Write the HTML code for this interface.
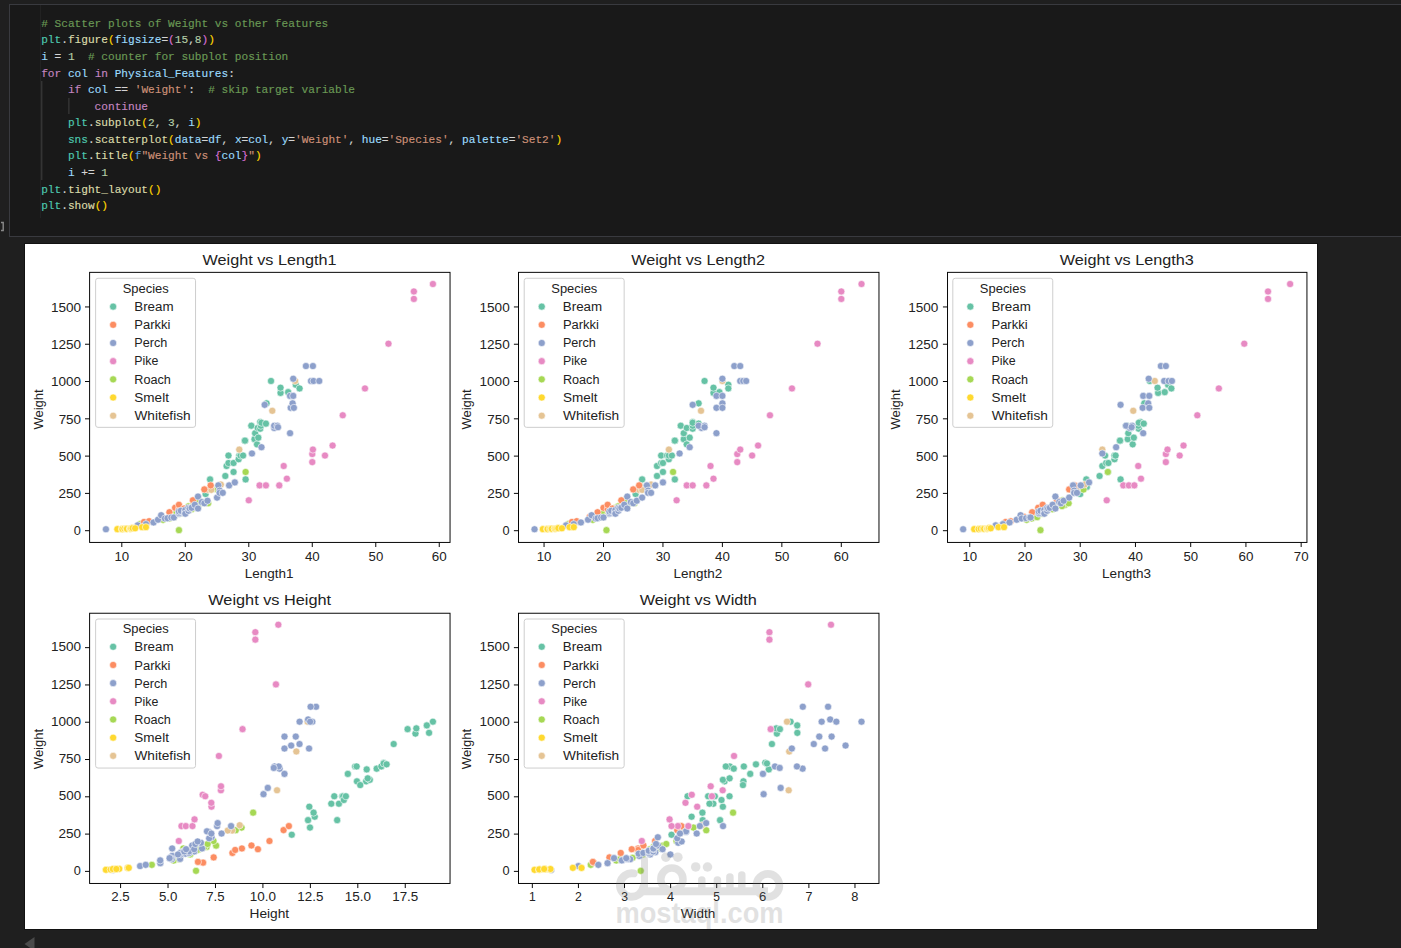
<!DOCTYPE html>
<html><head><meta charset="utf-8"><title>Weight vs features</title>
<style>
html,body{margin:0;padding:0}
body{width:1401px;height:948px;background:#1f1f1f;position:relative;overflow:hidden}
.cell{position:absolute;left:9px;top:4px;width:1420px;height:231px;border:1px solid #393a3f;background:#191919}
svg{position:absolute;left:0;top:0}
</style></head><body>
<div class="cell"></div>
<svg width="1401" height="948" viewBox="0 0 1401 948">
<path d="M40.5 5V218" stroke="#222" stroke-width="1"/>
<path d="M41.8 81V180M68.9 98V114" stroke="#404040" stroke-width="1"/>
<path d="M1 222.5H3.2V230.5H1" fill="none" stroke="#8a8a8a" stroke-width="1.4"/>
<g font-family="Liberation Mono, monospace" font-size="11.13" stroke-width="0.15" style="white-space:pre">
<text x="41.2" y="26.77"><tspan fill="#6a9955" stroke="#6a9955"># Scatter plots of Weight vs other features</tspan></text>
<text x="41.2" y="43.36"><tspan fill="#4ec9b0" stroke="#4ec9b0">plt</tspan><tspan fill="#d4d4d4" stroke="#d4d4d4">.</tspan><tspan fill="#dcdcaa" stroke="#dcdcaa">figure</tspan><tspan fill="#ffd700" stroke="#ffd700">(</tspan><tspan fill="#9cdcfe" stroke="#9cdcfe">figsize</tspan><tspan fill="#d4d4d4" stroke="#d4d4d4">=</tspan><tspan fill="#da70d6" stroke="#da70d6">(</tspan><tspan fill="#b5cea8" stroke="#b5cea8">15</tspan><tspan fill="#d4d4d4" stroke="#d4d4d4">,</tspan><tspan fill="#b5cea8" stroke="#b5cea8">8</tspan><tspan fill="#da70d6" stroke="#da70d6">)</tspan><tspan fill="#ffd700" stroke="#ffd700">)</tspan></text>
<text x="41.2" y="59.95"><tspan fill="#9cdcfe" stroke="#9cdcfe">i</tspan><tspan fill="#d4d4d4" stroke="#d4d4d4"> = </tspan><tspan fill="#b5cea8" stroke="#b5cea8">1</tspan><tspan fill="#d4d4d4" stroke="#d4d4d4">  </tspan><tspan fill="#6a9955" stroke="#6a9955"># counter for subplot position</tspan></text>
<text x="41.2" y="76.54"><tspan fill="#c586c0" stroke="#c586c0">for</tspan><tspan fill="#d4d4d4" stroke="#d4d4d4"> </tspan><tspan fill="#9cdcfe" stroke="#9cdcfe">col</tspan><tspan fill="#d4d4d4" stroke="#d4d4d4"> </tspan><tspan fill="#c586c0" stroke="#c586c0">in</tspan><tspan fill="#d4d4d4" stroke="#d4d4d4"> </tspan><tspan fill="#9cdcfe" stroke="#9cdcfe">Physical_Features</tspan><tspan fill="#d4d4d4" stroke="#d4d4d4">:</tspan></text>
<text x="41.2" y="93.13"><tspan fill="#d4d4d4" stroke="#d4d4d4">    </tspan><tspan fill="#c586c0" stroke="#c586c0">if</tspan><tspan fill="#d4d4d4" stroke="#d4d4d4"> </tspan><tspan fill="#9cdcfe" stroke="#9cdcfe">col</tspan><tspan fill="#d4d4d4" stroke="#d4d4d4"> == </tspan><tspan fill="#ce9178" stroke="#ce9178">&#x27;Weight&#x27;</tspan><tspan fill="#d4d4d4" stroke="#d4d4d4">:  </tspan><tspan fill="#6a9955" stroke="#6a9955"># skip target variable</tspan></text>
<text x="41.2" y="109.72"><tspan fill="#d4d4d4" stroke="#d4d4d4">        </tspan><tspan fill="#c586c0" stroke="#c586c0">continue</tspan></text>
<text x="41.2" y="126.31"><tspan fill="#d4d4d4" stroke="#d4d4d4">    </tspan><tspan fill="#4ec9b0" stroke="#4ec9b0">plt</tspan><tspan fill="#d4d4d4" stroke="#d4d4d4">.</tspan><tspan fill="#dcdcaa" stroke="#dcdcaa">subplot</tspan><tspan fill="#ffd700" stroke="#ffd700">(</tspan><tspan fill="#b5cea8" stroke="#b5cea8">2</tspan><tspan fill="#d4d4d4" stroke="#d4d4d4">, </tspan><tspan fill="#b5cea8" stroke="#b5cea8">3</tspan><tspan fill="#d4d4d4" stroke="#d4d4d4">, </tspan><tspan fill="#9cdcfe" stroke="#9cdcfe">i</tspan><tspan fill="#ffd700" stroke="#ffd700">)</tspan></text>
<text x="41.2" y="142.90"><tspan fill="#d4d4d4" stroke="#d4d4d4">    </tspan><tspan fill="#4ec9b0" stroke="#4ec9b0">sns</tspan><tspan fill="#d4d4d4" stroke="#d4d4d4">.</tspan><tspan fill="#dcdcaa" stroke="#dcdcaa">scatterplot</tspan><tspan fill="#ffd700" stroke="#ffd700">(</tspan><tspan fill="#9cdcfe" stroke="#9cdcfe">data</tspan><tspan fill="#d4d4d4" stroke="#d4d4d4">=</tspan><tspan fill="#9cdcfe" stroke="#9cdcfe">df</tspan><tspan fill="#d4d4d4" stroke="#d4d4d4">, </tspan><tspan fill="#9cdcfe" stroke="#9cdcfe">x</tspan><tspan fill="#d4d4d4" stroke="#d4d4d4">=</tspan><tspan fill="#9cdcfe" stroke="#9cdcfe">col</tspan><tspan fill="#d4d4d4" stroke="#d4d4d4">, </tspan><tspan fill="#9cdcfe" stroke="#9cdcfe">y</tspan><tspan fill="#d4d4d4" stroke="#d4d4d4">=</tspan><tspan fill="#ce9178" stroke="#ce9178">&#x27;Weight&#x27;</tspan><tspan fill="#d4d4d4" stroke="#d4d4d4">, </tspan><tspan fill="#9cdcfe" stroke="#9cdcfe">hue</tspan><tspan fill="#d4d4d4" stroke="#d4d4d4">=</tspan><tspan fill="#ce9178" stroke="#ce9178">&#x27;Species&#x27;</tspan><tspan fill="#d4d4d4" stroke="#d4d4d4">, </tspan><tspan fill="#9cdcfe" stroke="#9cdcfe">palette</tspan><tspan fill="#d4d4d4" stroke="#d4d4d4">=</tspan><tspan fill="#ce9178" stroke="#ce9178">&#x27;Set2&#x27;</tspan><tspan fill="#ffd700" stroke="#ffd700">)</tspan></text>
<text x="41.2" y="159.49"><tspan fill="#d4d4d4" stroke="#d4d4d4">    </tspan><tspan fill="#4ec9b0" stroke="#4ec9b0">plt</tspan><tspan fill="#d4d4d4" stroke="#d4d4d4">.</tspan><tspan fill="#dcdcaa" stroke="#dcdcaa">title</tspan><tspan fill="#ffd700" stroke="#ffd700">(</tspan><tspan fill="#569cd6" stroke="#569cd6">f</tspan><tspan fill="#ce9178" stroke="#ce9178">&quot;Weight vs </tspan><tspan fill="#da70d6" stroke="#da70d6">{</tspan><tspan fill="#9cdcfe" stroke="#9cdcfe">col</tspan><tspan fill="#da70d6" stroke="#da70d6">}</tspan><tspan fill="#ce9178" stroke="#ce9178">&quot;</tspan><tspan fill="#ffd700" stroke="#ffd700">)</tspan></text>
<text x="41.2" y="176.08"><tspan fill="#d4d4d4" stroke="#d4d4d4">    </tspan><tspan fill="#9cdcfe" stroke="#9cdcfe">i</tspan><tspan fill="#d4d4d4" stroke="#d4d4d4"> += </tspan><tspan fill="#b5cea8" stroke="#b5cea8">1</tspan></text>
<text x="41.2" y="192.67"><tspan fill="#4ec9b0" stroke="#4ec9b0">plt</tspan><tspan fill="#d4d4d4" stroke="#d4d4d4">.</tspan><tspan fill="#dcdcaa" stroke="#dcdcaa">tight_layout</tspan><tspan fill="#ffd700" stroke="#ffd700">()</tspan></text>
<text x="41.2" y="209.26"><tspan fill="#4ec9b0" stroke="#4ec9b0">plt</tspan><tspan fill="#d4d4d4" stroke="#d4d4d4">.</tspan><tspan fill="#dcdcaa" stroke="#dcdcaa">show</tspan><tspan fill="#ffd700" stroke="#ffd700">()</tspan></text>
</g>
<rect x="25" y="244" width="1292" height="685" fill="#ffffff"/>
<g stroke="#fff" stroke-width="0.58"><circle cx="205.61" cy="494.04" r="3.55" fill="#66c2a5"/><circle cx="210.69" cy="486.88" r="3.55" fill="#66c2a5"/><circle cx="210.06" cy="479.42" r="3.55" fill="#66c2a5"/><circle cx="225.3" cy="475.99" r="3.55" fill="#66c2a5"/><circle cx="226.57" cy="466" r="3.55" fill="#66c2a5"/><circle cx="228.47" cy="463.02" r="3.55" fill="#66c2a5"/><circle cx="228.47" cy="455.56" r="3.55" fill="#66c2a5"/><circle cx="233.55" cy="471.97" r="3.55" fill="#66c2a5"/><circle cx="233.55" cy="463.02" r="3.55" fill="#66c2a5"/><circle cx="239.26" cy="455.56" r="3.55" fill="#66c2a5"/><circle cx="238.63" cy="459.29" r="3.55" fill="#66c2a5"/><circle cx="240.53" cy="455.56" r="3.55" fill="#66c2a5"/><circle cx="243.07" cy="455.56" r="3.55" fill="#66c2a5"/><circle cx="245.61" cy="479.42" r="3.55" fill="#66c2a5"/><circle cx="244.98" cy="440.64" r="3.55" fill="#66c2a5"/><circle cx="244.98" cy="440.64" r="3.55" fill="#66c2a5"/><circle cx="251.33" cy="425.73" r="3.55" fill="#66c2a5"/><circle cx="251.33" cy="425.73" r="3.55" fill="#66c2a5"/><circle cx="254.5" cy="439.15" r="3.55" fill="#66c2a5"/><circle cx="255.14" cy="433.18" r="3.55" fill="#66c2a5"/><circle cx="257.04" cy="444.37" r="3.55" fill="#66c2a5"/><circle cx="257.68" cy="427.96" r="3.55" fill="#66c2a5"/><circle cx="258.31" cy="437.66" r="3.55" fill="#66c2a5"/><circle cx="260.22" cy="428.71" r="3.55" fill="#66c2a5"/><circle cx="260.85" cy="425.73" r="3.55" fill="#66c2a5"/><circle cx="260.22" cy="422" r="3.55" fill="#66c2a5"/><circle cx="261.49" cy="422.74" r="3.55" fill="#66c2a5"/><circle cx="265.93" cy="423.64" r="3.55" fill="#66c2a5"/><circle cx="266.57" cy="403.35" r="3.55" fill="#66c2a5"/><circle cx="271.01" cy="380.98" r="3.55" fill="#66c2a5"/><circle cx="280.53" cy="392.91" r="3.55" fill="#66c2a5"/><circle cx="280.53" cy="387.69" r="3.55" fill="#66c2a5"/><circle cx="288.15" cy="392.16" r="3.55" fill="#66c2a5"/><circle cx="295.77" cy="384.71" r="3.55" fill="#66c2a5"/><circle cx="299.58" cy="388.44" r="3.55" fill="#66c2a5"/><circle cx="140.22" cy="524.17" r="3.55" fill="#a6d854"/><circle cx="163.07" cy="519.85" r="3.55" fill="#a6d854"/><circle cx="169.42" cy="518.5" r="3.55" fill="#a6d854"/><circle cx="173.87" cy="517.16" r="3.55" fill="#a6d854"/><circle cx="176.41" cy="512.24" r="3.55" fill="#a6d854"/><circle cx="178.95" cy="530.14" r="3.55" fill="#a6d854"/><circle cx="179.58" cy="513.73" r="3.55" fill="#a6d854"/><circle cx="181.49" cy="512.24" r="3.55" fill="#a6d854"/><circle cx="187.84" cy="507.77" r="3.55" fill="#a6d854"/><circle cx="188.47" cy="508.51" r="3.55" fill="#a6d854"/><circle cx="188.47" cy="506.27" r="3.55" fill="#a6d854"/><circle cx="191.65" cy="509.26" r="3.55" fill="#a6d854"/><circle cx="192.28" cy="506.27" r="3.55" fill="#a6d854"/><circle cx="198" cy="504.93" r="3.55" fill="#a6d854"/><circle cx="198" cy="506.12" r="3.55" fill="#a6d854"/><circle cx="198.63" cy="500.31" r="3.55" fill="#a6d854"/><circle cx="208.15" cy="503.29" r="3.55" fill="#a6d854"/><circle cx="210.69" cy="486.88" r="3.55" fill="#a6d854"/><circle cx="217.04" cy="489.57" r="3.55" fill="#a6d854"/><circle cx="245.61" cy="471.97" r="3.55" fill="#a6d854"/><circle cx="208.15" cy="489.87" r="3.55" fill="#e5c494"/><circle cx="211.33" cy="489.87" r="3.55" fill="#e5c494"/><circle cx="220.85" cy="484.5" r="3.55" fill="#e5c494"/><circle cx="239.26" cy="449.59" r="3.55" fill="#e5c494"/><circle cx="272.28" cy="410.81" r="3.55" fill="#e5c494"/><circle cx="295.14" cy="380.98" r="3.55" fill="#e5c494"/><circle cx="144.03" cy="521.94" r="3.55" fill="#fc8d62"/><circle cx="149.11" cy="521.19" r="3.55" fill="#fc8d62"/><circle cx="161.81" cy="516.71" r="3.55" fill="#fc8d62"/><circle cx="169.42" cy="512.24" r="3.55" fill="#fc8d62"/><circle cx="175.14" cy="507.77" r="3.55" fill="#fc8d62"/><circle cx="178.95" cy="509.26" r="3.55" fill="#fc8d62"/><circle cx="178.95" cy="504.78" r="3.55" fill="#fc8d62"/><circle cx="184.03" cy="508.51" r="3.55" fill="#fc8d62"/><circle cx="192.92" cy="500.31" r="3.55" fill="#fc8d62"/><circle cx="204.34" cy="489.42" r="3.55" fill="#fc8d62"/><circle cx="210.69" cy="485.39" r="3.55" fill="#fc8d62"/><circle cx="105.93" cy="529.26" r="3.55" fill="#8da0cb"/><circle cx="137.68" cy="525.37" r="3.55" fill="#8da0cb"/><circle cx="145.93" cy="524.17" r="3.55" fill="#8da0cb"/><circle cx="153.55" cy="522.46" r="3.55" fill="#8da0cb"/><circle cx="158" cy="519.7" r="3.55" fill="#8da0cb"/><circle cx="161.17" cy="515.22" r="3.55" fill="#8da0cb"/><circle cx="164.98" cy="518.5" r="3.55" fill="#8da0cb"/><circle cx="167.52" cy="518.21" r="3.55" fill="#8da0cb"/><circle cx="171.33" cy="517.46" r="3.55" fill="#8da0cb"/><circle cx="173.87" cy="517.46" r="3.55" fill="#8da0cb"/><circle cx="178.95" cy="513.73" r="3.55" fill="#8da0cb"/><circle cx="178.95" cy="512.99" r="3.55" fill="#8da0cb"/><circle cx="178.95" cy="511.49" r="3.55" fill="#8da0cb"/><circle cx="180.85" cy="510.75" r="3.55" fill="#8da0cb"/><circle cx="185.3" cy="512.24" r="3.55" fill="#8da0cb"/><circle cx="185.3" cy="512.24" r="3.55" fill="#8da0cb"/><circle cx="185.3" cy="510.75" r="3.55" fill="#8da0cb"/><circle cx="185.3" cy="510" r="3.55" fill="#8da0cb"/><circle cx="185.3" cy="513.73" r="3.55" fill="#8da0cb"/><circle cx="188.47" cy="510.75" r="3.55" fill="#8da0cb"/><circle cx="188.47" cy="507.77" r="3.55" fill="#8da0cb"/><circle cx="189.74" cy="508.51" r="3.55" fill="#8da0cb"/><circle cx="191.65" cy="507.77" r="3.55" fill="#8da0cb"/><circle cx="194.82" cy="504.78" r="3.55" fill="#8da0cb"/><circle cx="198" cy="496.58" r="3.55" fill="#8da0cb"/><circle cx="198" cy="508.51" r="3.55" fill="#8da0cb"/><circle cx="201.8" cy="502.1" r="3.55" fill="#8da0cb"/><circle cx="204.34" cy="503.29" r="3.55" fill="#8da0cb"/><circle cx="207.52" cy="500.75" r="3.55" fill="#8da0cb"/><circle cx="217.04" cy="497.62" r="3.55" fill="#8da0cb"/><circle cx="218.31" cy="485.39" r="3.55" fill="#8da0cb"/><circle cx="219.58" cy="491.36" r="3.55" fill="#8da0cb"/><circle cx="219.58" cy="490.61" r="3.55" fill="#8da0cb"/><circle cx="219.58" cy="492.85" r="3.55" fill="#8da0cb"/><circle cx="222.76" cy="492.85" r="3.55" fill="#8da0cb"/><circle cx="229.11" cy="485.39" r="3.55" fill="#8da0cb"/><circle cx="234.82" cy="482.41" r="3.55" fill="#8da0cb"/><circle cx="251.96" cy="453.47" r="3.55" fill="#8da0cb"/><circle cx="261.49" cy="447.21" r="3.55" fill="#8da0cb"/><circle cx="264.66" cy="404.84" r="3.55" fill="#8da0cb"/><circle cx="274.18" cy="427.96" r="3.55" fill="#8da0cb"/><circle cx="274.18" cy="425.73" r="3.55" fill="#8da0cb"/><circle cx="277.36" cy="425.73" r="3.55" fill="#8da0cb"/><circle cx="277.99" cy="427.22" r="3.55" fill="#8da0cb"/><circle cx="290.06" cy="395.89" r="3.55" fill="#8da0cb"/><circle cx="290.06" cy="433.18" r="3.55" fill="#8da0cb"/><circle cx="290.69" cy="407.83" r="3.55" fill="#8da0cb"/><circle cx="292.6" cy="403.35" r="3.55" fill="#8da0cb"/><circle cx="293.23" cy="395.89" r="3.55" fill="#8da0cb"/><circle cx="293.23" cy="378.74" r="3.55" fill="#8da0cb"/><circle cx="293.87" cy="407.83" r="3.55" fill="#8da0cb"/><circle cx="305.93" cy="366.06" r="3.55" fill="#8da0cb"/><circle cx="311.01" cy="380.98" r="3.55" fill="#8da0cb"/><circle cx="312.91" cy="366.06" r="3.55" fill="#8da0cb"/><circle cx="313.55" cy="380.98" r="3.55" fill="#8da0cb"/><circle cx="319.26" cy="380.98" r="3.55" fill="#8da0cb"/><circle cx="248.79" cy="500.31" r="3.55" fill="#e78ac3"/><circle cx="259.58" cy="485.39" r="3.55" fill="#e78ac3"/><circle cx="265.93" cy="485.39" r="3.55" fill="#e78ac3"/><circle cx="279.26" cy="485.39" r="3.55" fill="#e78ac3"/><circle cx="283.71" cy="466" r="3.55" fill="#e78ac3"/><circle cx="286.88" cy="478.68" r="3.55" fill="#e78ac3"/><circle cx="312.28" cy="462.12" r="3.55" fill="#e78ac3"/><circle cx="312.28" cy="454.07" r="3.55" fill="#e78ac3"/><circle cx="312.91" cy="449.59" r="3.55" fill="#e78ac3"/><circle cx="324.98" cy="455.56" r="3.55" fill="#e78ac3"/><circle cx="332.6" cy="445.56" r="3.55" fill="#e78ac3"/><circle cx="342.75" cy="415.28" r="3.55" fill="#e78ac3"/><circle cx="364.98" cy="388.44" r="3.55" fill="#e78ac3"/><circle cx="388.47" cy="343.69" r="3.55" fill="#e78ac3"/><circle cx="413.87" cy="291.48" r="3.55" fill="#e78ac3"/><circle cx="413.87" cy="298.94" r="3.55" fill="#e78ac3"/><circle cx="432.91" cy="284.02" r="3.55" fill="#e78ac3"/><circle cx="117.36" cy="529.14" r="3.55" fill="#ffd92f"/><circle cx="121.81" cy="529.02" r="3.55" fill="#ffd92f"/><circle cx="122.44" cy="529.1" r="3.55" fill="#ffd92f"/><circle cx="124.35" cy="528.69" r="3.55" fill="#ffd92f"/><circle cx="126.25" cy="528.68" r="3.55" fill="#ffd92f"/><circle cx="126.88" cy="528.84" r="3.55" fill="#ffd92f"/><circle cx="130.06" cy="528.65" r="3.55" fill="#ffd92f"/><circle cx="130.06" cy="528.66" r="3.55" fill="#ffd92f"/><circle cx="130.69" cy="528.68" r="3.55" fill="#ffd92f"/><circle cx="131.33" cy="528.32" r="3.55" fill="#ffd92f"/><circle cx="132.6" cy="528.14" r="3.55" fill="#ffd92f"/><circle cx="135.14" cy="528.32" r="3.55" fill="#ffd92f"/><circle cx="142.12" cy="527.2" r="3.55" fill="#ffd92f"/><circle cx="145.93" cy="527.17" r="3.55" fill="#ffd92f"/><circle cx="635.6" cy="494.04" r="3.55" fill="#66c2a5"/><circle cx="640.95" cy="486.88" r="3.55" fill="#66c2a5"/><circle cx="642.14" cy="479.42" r="3.55" fill="#66c2a5"/><circle cx="657" cy="475.99" r="3.55" fill="#66c2a5"/><circle cx="657" cy="466" r="3.55" fill="#66c2a5"/><circle cx="661.16" cy="463.02" r="3.55" fill="#66c2a5"/><circle cx="661.16" cy="455.56" r="3.55" fill="#66c2a5"/><circle cx="662.95" cy="471.97" r="3.55" fill="#66c2a5"/><circle cx="662.95" cy="463.02" r="3.55" fill="#66c2a5"/><circle cx="667.11" cy="455.56" r="3.55" fill="#66c2a5"/><circle cx="668.89" cy="459.29" r="3.55" fill="#66c2a5"/><circle cx="668.89" cy="455.56" r="3.55" fill="#66c2a5"/><circle cx="671.87" cy="455.56" r="3.55" fill="#66c2a5"/><circle cx="674.84" cy="479.42" r="3.55" fill="#66c2a5"/><circle cx="674.84" cy="440.64" r="3.55" fill="#66c2a5"/><circle cx="674.84" cy="440.64" r="3.55" fill="#66c2a5"/><circle cx="680.78" cy="425.73" r="3.55" fill="#66c2a5"/><circle cx="680.78" cy="425.73" r="3.55" fill="#66c2a5"/><circle cx="683.76" cy="439.15" r="3.55" fill="#66c2a5"/><circle cx="683.76" cy="433.18" r="3.55" fill="#66c2a5"/><circle cx="686.73" cy="444.37" r="3.55" fill="#66c2a5"/><circle cx="686.73" cy="427.96" r="3.55" fill="#66c2a5"/><circle cx="689.7" cy="437.66" r="3.55" fill="#66c2a5"/><circle cx="692.67" cy="428.71" r="3.55" fill="#66c2a5"/><circle cx="692.67" cy="425.73" r="3.55" fill="#66c2a5"/><circle cx="692.67" cy="422" r="3.55" fill="#66c2a5"/><circle cx="692.67" cy="422.74" r="3.55" fill="#66c2a5"/><circle cx="698.62" cy="423.64" r="3.55" fill="#66c2a5"/><circle cx="698.62" cy="403.35" r="3.55" fill="#66c2a5"/><circle cx="704.56" cy="380.98" r="3.55" fill="#66c2a5"/><circle cx="713.48" cy="392.91" r="3.55" fill="#66c2a5"/><circle cx="713.48" cy="387.69" r="3.55" fill="#66c2a5"/><circle cx="719.43" cy="392.16" r="3.55" fill="#66c2a5"/><circle cx="728.34" cy="384.71" r="3.55" fill="#66c2a5"/><circle cx="728.34" cy="388.44" r="3.55" fill="#66c2a5"/><circle cx="568.42" cy="524.17" r="3.55" fill="#a6d854"/><circle cx="592.8" cy="519.85" r="3.55" fill="#a6d854"/><circle cx="596.36" cy="518.5" r="3.55" fill="#a6d854"/><circle cx="602.31" cy="517.16" r="3.55" fill="#a6d854"/><circle cx="603.5" cy="512.24" r="3.55" fill="#a6d854"/><circle cx="606.47" cy="530.14" r="3.55" fill="#a6d854"/><circle cx="608.25" cy="513.73" r="3.55" fill="#a6d854"/><circle cx="609.44" cy="512.24" r="3.55" fill="#a6d854"/><circle cx="615.39" cy="507.77" r="3.55" fill="#a6d854"/><circle cx="615.39" cy="508.51" r="3.55" fill="#a6d854"/><circle cx="618.36" cy="506.27" r="3.55" fill="#a6d854"/><circle cx="618.36" cy="509.26" r="3.55" fill="#a6d854"/><circle cx="618.36" cy="506.27" r="3.55" fill="#a6d854"/><circle cx="627.28" cy="504.93" r="3.55" fill="#a6d854"/><circle cx="623.71" cy="506.12" r="3.55" fill="#a6d854"/><circle cx="624.31" cy="500.31" r="3.55" fill="#a6d854"/><circle cx="634.41" cy="503.29" r="3.55" fill="#a6d854"/><circle cx="639.17" cy="486.88" r="3.55" fill="#a6d854"/><circle cx="645.11" cy="489.57" r="3.55" fill="#a6d854"/><circle cx="673.05" cy="471.97" r="3.55" fill="#a6d854"/><circle cx="639.17" cy="489.87" r="3.55" fill="#e5c494"/><circle cx="642.14" cy="489.87" r="3.55" fill="#e5c494"/><circle cx="651.06" cy="484.5" r="3.55" fill="#e5c494"/><circle cx="668.89" cy="449.59" r="3.55" fill="#e5c494"/><circle cx="701" cy="410.81" r="3.55" fill="#e5c494"/><circle cx="722.4" cy="380.98" r="3.55" fill="#e5c494"/><circle cx="571.99" cy="521.94" r="3.55" fill="#fc8d62"/><circle cx="576.74" cy="521.19" r="3.55" fill="#fc8d62"/><circle cx="589.82" cy="516.71" r="3.55" fill="#fc8d62"/><circle cx="597.55" cy="512.24" r="3.55" fill="#fc8d62"/><circle cx="603.5" cy="507.77" r="3.55" fill="#fc8d62"/><circle cx="607.66" cy="509.26" r="3.55" fill="#fc8d62"/><circle cx="607.66" cy="504.78" r="3.55" fill="#fc8d62"/><circle cx="612.41" cy="508.51" r="3.55" fill="#fc8d62"/><circle cx="621.33" cy="500.31" r="3.55" fill="#fc8d62"/><circle cx="633.22" cy="489.42" r="3.55" fill="#fc8d62"/><circle cx="639.17" cy="485.39" r="3.55" fill="#fc8d62"/><circle cx="534.53" cy="529.26" r="3.55" fill="#8da0cb"/><circle cx="566.04" cy="525.37" r="3.55" fill="#8da0cb"/><circle cx="573.77" cy="524.17" r="3.55" fill="#8da0cb"/><circle cx="580.91" cy="522.46" r="3.55" fill="#8da0cb"/><circle cx="588.04" cy="519.7" r="3.55" fill="#8da0cb"/><circle cx="591.61" cy="515.22" r="3.55" fill="#8da0cb"/><circle cx="595.77" cy="518.5" r="3.55" fill="#8da0cb"/><circle cx="597.55" cy="518.21" r="3.55" fill="#8da0cb"/><circle cx="601.12" cy="517.46" r="3.55" fill="#8da0cb"/><circle cx="603.5" cy="517.46" r="3.55" fill="#8da0cb"/><circle cx="609.44" cy="513.73" r="3.55" fill="#8da0cb"/><circle cx="609.44" cy="512.99" r="3.55" fill="#8da0cb"/><circle cx="609.44" cy="511.49" r="3.55" fill="#8da0cb"/><circle cx="611.23" cy="510.75" r="3.55" fill="#8da0cb"/><circle cx="615.39" cy="512.24" r="3.55" fill="#8da0cb"/><circle cx="615.39" cy="512.24" r="3.55" fill="#8da0cb"/><circle cx="615.39" cy="510.75" r="3.55" fill="#8da0cb"/><circle cx="615.39" cy="510" r="3.55" fill="#8da0cb"/><circle cx="615.39" cy="513.73" r="3.55" fill="#8da0cb"/><circle cx="618.36" cy="510.75" r="3.55" fill="#8da0cb"/><circle cx="618.36" cy="507.77" r="3.55" fill="#8da0cb"/><circle cx="619.55" cy="508.51" r="3.55" fill="#8da0cb"/><circle cx="621.33" cy="507.77" r="3.55" fill="#8da0cb"/><circle cx="624.31" cy="504.78" r="3.55" fill="#8da0cb"/><circle cx="627.28" cy="496.58" r="3.55" fill="#8da0cb"/><circle cx="627.28" cy="508.51" r="3.55" fill="#8da0cb"/><circle cx="630.84" cy="502.1" r="3.55" fill="#8da0cb"/><circle cx="633.22" cy="503.29" r="3.55" fill="#8da0cb"/><circle cx="636.79" cy="500.75" r="3.55" fill="#8da0cb"/><circle cx="642.14" cy="497.62" r="3.55" fill="#8da0cb"/><circle cx="646.9" cy="485.39" r="3.55" fill="#8da0cb"/><circle cx="648.09" cy="491.36" r="3.55" fill="#8da0cb"/><circle cx="648.09" cy="490.61" r="3.55" fill="#8da0cb"/><circle cx="648.09" cy="492.85" r="3.55" fill="#8da0cb"/><circle cx="651.06" cy="492.85" r="3.55" fill="#8da0cb"/><circle cx="655.22" cy="485.39" r="3.55" fill="#8da0cb"/><circle cx="662.95" cy="482.41" r="3.55" fill="#8da0cb"/><circle cx="679.59" cy="453.47" r="3.55" fill="#8da0cb"/><circle cx="689.7" cy="447.21" r="3.55" fill="#8da0cb"/><circle cx="692.67" cy="404.84" r="3.55" fill="#8da0cb"/><circle cx="701.59" cy="427.96" r="3.55" fill="#8da0cb"/><circle cx="698.62" cy="425.73" r="3.55" fill="#8da0cb"/><circle cx="704.56" cy="425.73" r="3.55" fill="#8da0cb"/><circle cx="704.56" cy="427.22" r="3.55" fill="#8da0cb"/><circle cx="716.45" cy="395.89" r="3.55" fill="#8da0cb"/><circle cx="716.45" cy="433.18" r="3.55" fill="#8da0cb"/><circle cx="716.45" cy="407.83" r="3.55" fill="#8da0cb"/><circle cx="722.4" cy="403.35" r="3.55" fill="#8da0cb"/><circle cx="722.4" cy="395.89" r="3.55" fill="#8da0cb"/><circle cx="722.4" cy="378.74" r="3.55" fill="#8da0cb"/><circle cx="722.4" cy="407.83" r="3.55" fill="#8da0cb"/><circle cx="734.29" cy="366.06" r="3.55" fill="#8da0cb"/><circle cx="740.23" cy="380.98" r="3.55" fill="#8da0cb"/><circle cx="740.23" cy="366.06" r="3.55" fill="#8da0cb"/><circle cx="743.21" cy="380.98" r="3.55" fill="#8da0cb"/><circle cx="746.18" cy="380.98" r="3.55" fill="#8da0cb"/><circle cx="676.62" cy="500.31" r="3.55" fill="#e78ac3"/><circle cx="686.73" cy="485.39" r="3.55" fill="#e78ac3"/><circle cx="692.67" cy="485.39" r="3.55" fill="#e78ac3"/><circle cx="706.35" cy="485.39" r="3.55" fill="#e78ac3"/><circle cx="710.51" cy="466" r="3.55" fill="#e78ac3"/><circle cx="713.48" cy="478.68" r="3.55" fill="#e78ac3"/><circle cx="737.26" cy="462.12" r="3.55" fill="#e78ac3"/><circle cx="737.26" cy="454.07" r="3.55" fill="#e78ac3"/><circle cx="740.23" cy="449.59" r="3.55" fill="#e78ac3"/><circle cx="752.12" cy="455.56" r="3.55" fill="#e78ac3"/><circle cx="758.07" cy="445.56" r="3.55" fill="#e78ac3"/><circle cx="769.96" cy="415.28" r="3.55" fill="#e78ac3"/><circle cx="791.96" cy="388.44" r="3.55" fill="#e78ac3"/><circle cx="817.52" cy="343.69" r="3.55" fill="#e78ac3"/><circle cx="841.3" cy="291.48" r="3.55" fill="#e78ac3"/><circle cx="841.3" cy="298.94" r="3.55" fill="#e78ac3"/><circle cx="861.51" cy="284.02" r="3.55" fill="#e78ac3"/><circle cx="542.86" cy="529.14" r="3.55" fill="#ffd92f"/><circle cx="547.02" cy="529.02" r="3.55" fill="#ffd92f"/><circle cx="547.61" cy="529.1" r="3.55" fill="#ffd92f"/><circle cx="549.99" cy="528.69" r="3.55" fill="#ffd92f"/><circle cx="551.18" cy="528.68" r="3.55" fill="#ffd92f"/><circle cx="551.78" cy="528.84" r="3.55" fill="#ffd92f"/><circle cx="554.75" cy="528.65" r="3.55" fill="#ffd92f"/><circle cx="554.75" cy="528.66" r="3.55" fill="#ffd92f"/><circle cx="555.94" cy="528.68" r="3.55" fill="#ffd92f"/><circle cx="557.13" cy="528.32" r="3.55" fill="#ffd92f"/><circle cx="558.31" cy="528.14" r="3.55" fill="#ffd92f"/><circle cx="561.88" cy="528.32" r="3.55" fill="#ffd92f"/><circle cx="569.61" cy="527.2" r="3.55" fill="#ffd92f"/><circle cx="573.77" cy="527.17" r="3.55" fill="#ffd92f"/><circle cx="1080.23" cy="494.04" r="3.55" fill="#66c2a5"/><circle cx="1086.86" cy="486.88" r="3.55" fill="#66c2a5"/><circle cx="1086.31" cy="479.42" r="3.55" fill="#66c2a5"/><circle cx="1099.56" cy="475.99" r="3.55" fill="#66c2a5"/><circle cx="1102.32" cy="466" r="3.55" fill="#66c2a5"/><circle cx="1106.19" cy="463.02" r="3.55" fill="#66c2a5"/><circle cx="1105.08" cy="455.56" r="3.55" fill="#66c2a5"/><circle cx="1107.85" cy="471.97" r="3.55" fill="#66c2a5"/><circle cx="1108.4" cy="463.02" r="3.55" fill="#66c2a5"/><circle cx="1114.47" cy="455.56" r="3.55" fill="#66c2a5"/><circle cx="1114.47" cy="459.29" r="3.55" fill="#66c2a5"/><circle cx="1114.47" cy="455.56" r="3.55" fill="#66c2a5"/><circle cx="1115.58" cy="455.56" r="3.55" fill="#66c2a5"/><circle cx="1120.55" cy="479.42" r="3.55" fill="#66c2a5"/><circle cx="1120" cy="440.64" r="3.55" fill="#66c2a5"/><circle cx="1120" cy="440.64" r="3.55" fill="#66c2a5"/><circle cx="1126.07" cy="425.73" r="3.55" fill="#66c2a5"/><circle cx="1127.18" cy="425.73" r="3.55" fill="#66c2a5"/><circle cx="1127.73" cy="439.15" r="3.55" fill="#66c2a5"/><circle cx="1128.28" cy="433.18" r="3.55" fill="#66c2a5"/><circle cx="1132.7" cy="444.37" r="3.55" fill="#66c2a5"/><circle cx="1131.04" cy="427.96" r="3.55" fill="#66c2a5"/><circle cx="1133.81" cy="437.66" r="3.55" fill="#66c2a5"/><circle cx="1138.78" cy="428.71" r="3.55" fill="#66c2a5"/><circle cx="1138.22" cy="425.73" r="3.55" fill="#66c2a5"/><circle cx="1140.43" cy="422" r="3.55" fill="#66c2a5"/><circle cx="1138.78" cy="422.74" r="3.55" fill="#66c2a5"/><circle cx="1143.75" cy="423.64" r="3.55" fill="#66c2a5"/><circle cx="1144.3" cy="403.35" r="3.55" fill="#66c2a5"/><circle cx="1149.82" cy="380.98" r="3.55" fill="#66c2a5"/><circle cx="1158.11" cy="392.91" r="3.55" fill="#66c2a5"/><circle cx="1157.56" cy="387.69" r="3.55" fill="#66c2a5"/><circle cx="1164.74" cy="392.16" r="3.55" fill="#66c2a5"/><circle cx="1168.05" cy="384.71" r="3.55" fill="#66c2a5"/><circle cx="1171.36" cy="388.44" r="3.55" fill="#66c2a5"/><circle cx="1004.01" cy="524.17" r="3.55" fill="#a6d854"/><circle cx="1026.65" cy="519.85" r="3.55" fill="#a6d854"/><circle cx="1031.62" cy="518.5" r="3.55" fill="#a6d854"/><circle cx="1037.15" cy="517.16" r="3.55" fill="#a6d854"/><circle cx="1037.15" cy="512.24" r="3.55" fill="#a6d854"/><circle cx="1040.46" cy="530.14" r="3.55" fill="#a6d854"/><circle cx="1042.12" cy="513.73" r="3.55" fill="#a6d854"/><circle cx="1045.43" cy="512.24" r="3.55" fill="#a6d854"/><circle cx="1050.96" cy="507.77" r="3.55" fill="#a6d854"/><circle cx="1048.75" cy="508.51" r="3.55" fill="#a6d854"/><circle cx="1054.27" cy="506.27" r="3.55" fill="#a6d854"/><circle cx="1052.61" cy="509.26" r="3.55" fill="#a6d854"/><circle cx="1052.61" cy="506.27" r="3.55" fill="#a6d854"/><circle cx="1064.76" cy="504.93" r="3.55" fill="#a6d854"/><circle cx="1062" cy="506.12" r="3.55" fill="#a6d854"/><circle cx="1062.56" cy="500.31" r="3.55" fill="#a6d854"/><circle cx="1068.63" cy="503.29" r="3.55" fill="#a6d854"/><circle cx="1075.81" cy="486.88" r="3.55" fill="#a6d854"/><circle cx="1083.54" cy="489.57" r="3.55" fill="#a6d854"/><circle cx="1107.85" cy="471.97" r="3.55" fill="#a6d854"/><circle cx="1073.05" cy="489.87" r="3.55" fill="#e5c494"/><circle cx="1076.36" cy="489.87" r="3.55" fill="#e5c494"/><circle cx="1084.65" cy="484.5" r="3.55" fill="#e5c494"/><circle cx="1102.32" cy="449.59" r="3.55" fill="#e5c494"/><circle cx="1133.25" cy="410.81" r="3.55" fill="#e5c494"/><circle cx="1154.79" cy="380.98" r="3.55" fill="#e5c494"/><circle cx="1005.67" cy="521.94" r="3.55" fill="#fc8d62"/><circle cx="1010.64" cy="521.19" r="3.55" fill="#fc8d62"/><circle cx="1023.89" cy="516.71" r="3.55" fill="#fc8d62"/><circle cx="1032.18" cy="512.24" r="3.55" fill="#fc8d62"/><circle cx="1038.25" cy="507.77" r="3.55" fill="#fc8d62"/><circle cx="1042.67" cy="509.26" r="3.55" fill="#fc8d62"/><circle cx="1042.67" cy="504.78" r="3.55" fill="#fc8d62"/><circle cx="1047.64" cy="508.51" r="3.55" fill="#fc8d62"/><circle cx="1057.03" cy="500.31" r="3.55" fill="#fc8d62"/><circle cx="1069.18" cy="489.42" r="3.55" fill="#fc8d62"/><circle cx="1074.71" cy="485.39" r="3.55" fill="#fc8d62"/><circle cx="963.14" cy="529.26" r="3.55" fill="#8da0cb"/><circle cx="995.72" cy="525.37" r="3.55" fill="#8da0cb"/><circle cx="1002.9" cy="524.17" r="3.55" fill="#8da0cb"/><circle cx="1009.53" cy="522.46" r="3.55" fill="#8da0cb"/><circle cx="1016.71" cy="519.7" r="3.55" fill="#8da0cb"/><circle cx="1020.58" cy="515.22" r="3.55" fill="#8da0cb"/><circle cx="1021.68" cy="518.5" r="3.55" fill="#8da0cb"/><circle cx="1026.1" cy="518.21" r="3.55" fill="#8da0cb"/><circle cx="1029.42" cy="517.46" r="3.55" fill="#8da0cb"/><circle cx="1030.52" cy="517.46" r="3.55" fill="#8da0cb"/><circle cx="1038.81" cy="513.73" r="3.55" fill="#8da0cb"/><circle cx="1038.81" cy="512.99" r="3.55" fill="#8da0cb"/><circle cx="1038.81" cy="511.49" r="3.55" fill="#8da0cb"/><circle cx="1040.46" cy="510.75" r="3.55" fill="#8da0cb"/><circle cx="1044.33" cy="512.24" r="3.55" fill="#8da0cb"/><circle cx="1044.33" cy="512.24" r="3.55" fill="#8da0cb"/><circle cx="1044.33" cy="510.75" r="3.55" fill="#8da0cb"/><circle cx="1044.33" cy="510" r="3.55" fill="#8da0cb"/><circle cx="1044.33" cy="513.73" r="3.55" fill="#8da0cb"/><circle cx="1047.09" cy="510.75" r="3.55" fill="#8da0cb"/><circle cx="1047.09" cy="507.77" r="3.55" fill="#8da0cb"/><circle cx="1048.19" cy="508.51" r="3.55" fill="#8da0cb"/><circle cx="1049.85" cy="507.77" r="3.55" fill="#8da0cb"/><circle cx="1052.61" cy="504.78" r="3.55" fill="#8da0cb"/><circle cx="1055.38" cy="496.58" r="3.55" fill="#8da0cb"/><circle cx="1055.38" cy="508.51" r="3.55" fill="#8da0cb"/><circle cx="1059.24" cy="502.1" r="3.55" fill="#8da0cb"/><circle cx="1060.9" cy="503.29" r="3.55" fill="#8da0cb"/><circle cx="1063.66" cy="500.75" r="3.55" fill="#8da0cb"/><circle cx="1069.18" cy="497.62" r="3.55" fill="#8da0cb"/><circle cx="1073.05" cy="485.39" r="3.55" fill="#8da0cb"/><circle cx="1074.15" cy="491.36" r="3.55" fill="#8da0cb"/><circle cx="1074.15" cy="490.61" r="3.55" fill="#8da0cb"/><circle cx="1074.15" cy="492.85" r="3.55" fill="#8da0cb"/><circle cx="1076.92" cy="492.85" r="3.55" fill="#8da0cb"/><circle cx="1080.78" cy="485.39" r="3.55" fill="#8da0cb"/><circle cx="1089.07" cy="482.41" r="3.55" fill="#8da0cb"/><circle cx="1102.32" cy="453.47" r="3.55" fill="#8da0cb"/><circle cx="1116.13" cy="447.21" r="3.55" fill="#8da0cb"/><circle cx="1120.55" cy="404.84" r="3.55" fill="#8da0cb"/><circle cx="1129.94" cy="427.96" r="3.55" fill="#8da0cb"/><circle cx="1126.07" cy="425.73" r="3.55" fill="#8da0cb"/><circle cx="1132.15" cy="425.73" r="3.55" fill="#8da0cb"/><circle cx="1131.6" cy="427.22" r="3.55" fill="#8da0cb"/><circle cx="1143.2" cy="395.89" r="3.55" fill="#8da0cb"/><circle cx="1143.2" cy="433.18" r="3.55" fill="#8da0cb"/><circle cx="1142.64" cy="407.83" r="3.55" fill="#8da0cb"/><circle cx="1148.17" cy="403.35" r="3.55" fill="#8da0cb"/><circle cx="1149.27" cy="395.89" r="3.55" fill="#8da0cb"/><circle cx="1148.72" cy="378.74" r="3.55" fill="#8da0cb"/><circle cx="1149.27" cy="407.83" r="3.55" fill="#8da0cb"/><circle cx="1160.87" cy="366.06" r="3.55" fill="#8da0cb"/><circle cx="1164.18" cy="380.98" r="3.55" fill="#8da0cb"/><circle cx="1165.84" cy="366.06" r="3.55" fill="#8da0cb"/><circle cx="1168.6" cy="380.98" r="3.55" fill="#8da0cb"/><circle cx="1171.92" cy="380.98" r="3.55" fill="#8da0cb"/><circle cx="1106.74" cy="500.31" r="3.55" fill="#e78ac3"/><circle cx="1123.31" cy="485.39" r="3.55" fill="#e78ac3"/><circle cx="1128.83" cy="485.39" r="3.55" fill="#e78ac3"/><circle cx="1134.36" cy="485.39" r="3.55" fill="#e78ac3"/><circle cx="1138.22" cy="466" r="3.55" fill="#e78ac3"/><circle cx="1140.99" cy="478.68" r="3.55" fill="#e78ac3"/><circle cx="1165.84" cy="462.12" r="3.55" fill="#e78ac3"/><circle cx="1165.84" cy="454.07" r="3.55" fill="#e78ac3"/><circle cx="1167.5" cy="449.59" r="3.55" fill="#e78ac3"/><circle cx="1179.65" cy="455.56" r="3.55" fill="#e78ac3"/><circle cx="1183.52" cy="445.56" r="3.55" fill="#e78ac3"/><circle cx="1197.32" cy="415.28" r="3.55" fill="#e78ac3"/><circle cx="1218.86" cy="388.44" r="3.55" fill="#e78ac3"/><circle cx="1244.27" cy="343.69" r="3.55" fill="#e78ac3"/><circle cx="1268.02" cy="291.48" r="3.55" fill="#e78ac3"/><circle cx="1268.02" cy="298.94" r="3.55" fill="#e78ac3"/><circle cx="1290.12" cy="284.02" r="3.55" fill="#e78ac3"/><circle cx="974.18" cy="529.14" r="3.55" fill="#ffd92f"/><circle cx="978.6" cy="529.02" r="3.55" fill="#ffd92f"/><circle cx="978.6" cy="529.1" r="3.55" fill="#ffd92f"/><circle cx="980.81" cy="528.69" r="3.55" fill="#ffd92f"/><circle cx="983.02" cy="528.68" r="3.55" fill="#ffd92f"/><circle cx="984.12" cy="528.84" r="3.55" fill="#ffd92f"/><circle cx="986.89" cy="528.65" r="3.55" fill="#ffd92f"/><circle cx="986.89" cy="528.66" r="3.55" fill="#ffd92f"/><circle cx="987.44" cy="528.68" r="3.55" fill="#ffd92f"/><circle cx="988.54" cy="528.32" r="3.55" fill="#ffd92f"/><circle cx="989.1" cy="528.14" r="3.55" fill="#ffd92f"/><circle cx="990.75" cy="528.32" r="3.55" fill="#ffd92f"/><circle cx="998.49" cy="527.2" r="3.55" fill="#ffd92f"/><circle cx="1004.01" cy="527.17" r="3.55" fill="#ffd92f"/><circle cx="291.77" cy="834.74" r="3.55" fill="#66c2a5"/><circle cx="309.99" cy="827.58" r="3.55" fill="#66c2a5"/><circle cx="308.05" cy="820.13" r="3.55" fill="#66c2a5"/><circle cx="314.73" cy="816.7" r="3.55" fill="#66c2a5"/><circle cx="309.3" cy="806.7" r="3.55" fill="#66c2a5"/><circle cx="331.29" cy="803.72" r="3.55" fill="#66c2a5"/><circle cx="342.24" cy="796.26" r="3.55" fill="#66c2a5"/><circle cx="313.59" cy="812.67" r="3.55" fill="#66c2a5"/><circle cx="338.93" cy="803.72" r="3.55" fill="#66c2a5"/><circle cx="343.13" cy="796.26" r="3.55" fill="#66c2a5"/><circle cx="343.82" cy="799.99" r="3.55" fill="#66c2a5"/><circle cx="345.88" cy="796.26" r="3.55" fill="#66c2a5"/><circle cx="334.26" cy="796.26" r="3.55" fill="#66c2a5"/><circle cx="337.18" cy="820.13" r="3.55" fill="#66c2a5"/><circle cx="356.95" cy="781.34" r="3.55" fill="#66c2a5"/><circle cx="366.13" cy="781.34" r="3.55" fill="#66c2a5"/><circle cx="355.16" cy="766.43" r="3.55" fill="#66c2a5"/><circle cx="356.64" cy="766.43" r="3.55" fill="#66c2a5"/><circle cx="369.83" cy="779.85" r="3.55" fill="#66c2a5"/><circle cx="347.83" cy="773.89" r="3.55" fill="#66c2a5"/><circle cx="360.25" cy="785.07" r="3.55" fill="#66c2a5"/><circle cx="376.67" cy="768.67" r="3.55" fill="#66c2a5"/><circle cx="367.73" cy="778.36" r="3.55" fill="#66c2a5"/><circle cx="366.71" cy="769.41" r="3.55" fill="#66c2a5"/><circle cx="381.36" cy="766.43" r="3.55" fill="#66c2a5"/><circle cx="383.62" cy="762.7" r="3.55" fill="#66c2a5"/><circle cx="383.66" cy="763.44" r="3.55" fill="#66c2a5"/><circle cx="386.6" cy="764.34" r="3.55" fill="#66c2a5"/><circle cx="393.68" cy="744.05" r="3.55" fill="#66c2a5"/><circle cx="432.91" cy="721.68" r="3.55" fill="#66c2a5"/><circle cx="415.45" cy="733.61" r="3.55" fill="#66c2a5"/><circle cx="416.34" cy="728.39" r="3.55" fill="#66c2a5"/><circle cx="429.06" cy="732.87" r="3.55" fill="#66c2a5"/><circle cx="426.81" cy="725.41" r="3.55" fill="#66c2a5"/><circle cx="407.6" cy="729.14" r="3.55" fill="#66c2a5"/><circle cx="151.84" cy="864.87" r="3.55" fill="#a6d854"/><circle cx="173.69" cy="860.55" r="3.55" fill="#a6d854"/><circle cx="178.95" cy="859.21" r="3.55" fill="#a6d854"/><circle cx="179.73" cy="857.86" r="3.55" fill="#a6d854"/><circle cx="191.1" cy="852.94" r="3.55" fill="#a6d854"/><circle cx="196.02" cy="870.84" r="3.55" fill="#a6d854"/><circle cx="190.19" cy="854.43" r="3.55" fill="#a6d854"/><circle cx="189.18" cy="852.94" r="3.55" fill="#a6d854"/><circle cx="183.29" cy="848.47" r="3.55" fill="#a6d854"/><circle cx="199.03" cy="849.21" r="3.55" fill="#a6d854"/><circle cx="206.62" cy="846.98" r="3.55" fill="#a6d854"/><circle cx="197.44" cy="849.96" r="3.55" fill="#a6d854"/><circle cx="194.59" cy="846.98" r="3.55" fill="#a6d854"/><circle cx="216.12" cy="845.63" r="3.55" fill="#a6d854"/><circle cx="204.37" cy="846.83" r="3.55" fill="#a6d854"/><circle cx="213.51" cy="841.01" r="3.55" fill="#a6d854"/><circle cx="207.63" cy="843.99" r="3.55" fill="#a6d854"/><circle cx="241.6" cy="827.58" r="3.55" fill="#a6d854"/><circle cx="235.74" cy="830.27" r="3.55" fill="#a6d854"/><circle cx="253.14" cy="812.67" r="3.55" fill="#a6d854"/><circle cx="232.18" cy="830.57" r="3.55" fill="#e5c494"/><circle cx="227.72" cy="830.57" r="3.55" fill="#e5c494"/><circle cx="239.73" cy="825.2" r="3.55" fill="#e5c494"/><circle cx="277.04" cy="790.29" r="3.55" fill="#e5c494"/><circle cx="296.34" cy="751.51" r="3.55" fill="#e5c494"/><circle cx="307.59" cy="721.68" r="3.55" fill="#e5c494"/><circle cx="203.09" cy="862.64" r="3.55" fill="#fc8d62"/><circle cx="197.96" cy="861.89" r="3.55" fill="#fc8d62"/><circle cx="213.67" cy="857.42" r="3.55" fill="#fc8d62"/><circle cx="232.4" cy="852.94" r="3.55" fill="#fc8d62"/><circle cx="241.91" cy="848.47" r="3.55" fill="#fc8d62"/><circle cx="235.16" cy="849.96" r="3.55" fill="#fc8d62"/><circle cx="251.46" cy="845.48" r="3.55" fill="#fc8d62"/><circle cx="257.92" cy="849.21" r="3.55" fill="#fc8d62"/><circle cx="269.48" cy="841.01" r="3.55" fill="#fc8d62"/><circle cx="283.57" cy="830.12" r="3.55" fill="#fc8d62"/><circle cx="288.88" cy="826.09" r="3.55" fill="#fc8d62"/><circle cx="113.21" cy="869.96" r="3.55" fill="#8da0cb"/><circle cx="140.09" cy="866.07" r="3.55" fill="#8da0cb"/><circle cx="145.7" cy="864.87" r="3.55" fill="#8da0cb"/><circle cx="160.29" cy="863.16" r="3.55" fill="#8da0cb"/><circle cx="160.2" cy="860.4" r="3.55" fill="#8da0cb"/><circle cx="172.25" cy="855.92" r="3.55" fill="#8da0cb"/><circle cx="171.8" cy="859.21" r="3.55" fill="#8da0cb"/><circle cx="180.09" cy="858.91" r="3.55" fill="#8da0cb"/><circle cx="170.64" cy="858.16" r="3.55" fill="#8da0cb"/><circle cx="169.58" cy="858.16" r="3.55" fill="#8da0cb"/><circle cx="181.17" cy="854.43" r="3.55" fill="#8da0cb"/><circle cx="185.44" cy="853.69" r="3.55" fill="#8da0cb"/><circle cx="181.17" cy="852.2" r="3.55" fill="#8da0cb"/><circle cx="194.29" cy="851.45" r="3.55" fill="#8da0cb"/><circle cx="189.09" cy="852.94" r="3.55" fill="#8da0cb"/><circle cx="180.17" cy="852.94" r="3.55" fill="#8da0cb"/><circle cx="189.09" cy="851.45" r="3.55" fill="#8da0cb"/><circle cx="184.63" cy="850.7" r="3.55" fill="#8da0cb"/><circle cx="177.94" cy="854.43" r="3.55" fill="#8da0cb"/><circle cx="184.27" cy="851.45" r="3.55" fill="#8da0cb"/><circle cx="202.03" cy="848.47" r="3.55" fill="#8da0cb"/><circle cx="186.11" cy="849.21" r="3.55" fill="#8da0cb"/><circle cx="172.17" cy="848.47" r="3.55" fill="#8da0cb"/><circle cx="192.22" cy="845.48" r="3.55" fill="#8da0cb"/><circle cx="211.54" cy="837.28" r="3.55" fill="#8da0cb"/><circle cx="194.12" cy="849.21" r="3.55" fill="#8da0cb"/><circle cx="200.92" cy="842.8" r="3.55" fill="#8da0cb"/><circle cx="195.34" cy="843.99" r="3.55" fill="#8da0cb"/><circle cx="197.65" cy="841.46" r="3.55" fill="#8da0cb"/><circle cx="209.17" cy="838.32" r="3.55" fill="#8da0cb"/><circle cx="231.09" cy="826.09" r="3.55" fill="#8da0cb"/><circle cx="209.16" cy="832.06" r="3.55" fill="#8da0cb"/><circle cx="206.96" cy="831.31" r="3.55" fill="#8da0cb"/><circle cx="211.35" cy="833.55" r="3.55" fill="#8da0cb"/><circle cx="221.55" cy="833.55" r="3.55" fill="#8da0cb"/><circle cx="217.09" cy="826.09" r="3.55" fill="#8da0cb"/><circle cx="217.67" cy="823.11" r="3.55" fill="#8da0cb"/><circle cx="263.49" cy="794.17" r="3.55" fill="#8da0cb"/><circle cx="267.79" cy="787.91" r="3.55" fill="#8da0cb"/><circle cx="291.17" cy="745.55" r="3.55" fill="#8da0cb"/><circle cx="279.64" cy="768.67" r="3.55" fill="#8da0cb"/><circle cx="274.48" cy="766.43" r="3.55" fill="#8da0cb"/><circle cx="278.77" cy="766.43" r="3.55" fill="#8da0cb"/><circle cx="273.77" cy="767.92" r="3.55" fill="#8da0cb"/><circle cx="284.49" cy="736.6" r="3.55" fill="#8da0cb"/><circle cx="284.49" cy="773.89" r="3.55" fill="#8da0cb"/><circle cx="309.06" cy="748.53" r="3.55" fill="#8da0cb"/><circle cx="299.52" cy="744.05" r="3.55" fill="#8da0cb"/><circle cx="295.75" cy="736.6" r="3.55" fill="#8da0cb"/><circle cx="308.1" cy="719.44" r="3.55" fill="#8da0cb"/><circle cx="284.46" cy="748.53" r="3.55" fill="#8da0cb"/><circle cx="316.06" cy="706.76" r="3.55" fill="#8da0cb"/><circle cx="299.6" cy="721.68" r="3.55" fill="#8da0cb"/><circle cx="310.6" cy="706.76" r="3.55" fill="#8da0cb"/><circle cx="312.34" cy="721.68" r="3.55" fill="#8da0cb"/><circle cx="310.15" cy="721.68" r="3.55" fill="#8da0cb"/><circle cx="178.8" cy="841.01" r="3.55" fill="#e78ac3"/><circle cx="181.46" cy="826.09" r="3.55" fill="#e78ac3"/><circle cx="185.8" cy="826.09" r="3.55" fill="#e78ac3"/><circle cx="192.48" cy="826.09" r="3.55" fill="#e78ac3"/><circle cx="211.49" cy="806.7" r="3.55" fill="#e78ac3"/><circle cx="194.52" cy="819.38" r="3.55" fill="#e78ac3"/><circle cx="211.3" cy="802.82" r="3.55" fill="#e78ac3"/><circle cx="202.66" cy="794.77" r="3.55" fill="#e78ac3"/><circle cx="220.9" cy="790.29" r="3.55" fill="#e78ac3"/><circle cx="205.22" cy="796.26" r="3.55" fill="#e78ac3"/><circle cx="221.01" cy="786.27" r="3.55" fill="#e78ac3"/><circle cx="218.89" cy="755.99" r="3.55" fill="#e78ac3"/><circle cx="242.54" cy="729.14" r="3.55" fill="#e78ac3"/><circle cx="275.94" cy="684.39" r="3.55" fill="#e78ac3"/><circle cx="255.33" cy="632.18" r="3.55" fill="#e78ac3"/><circle cx="255.33" cy="639.64" r="3.55" fill="#e78ac3"/><circle cx="278.33" cy="624.72" r="3.55" fill="#e78ac3"/><circle cx="106.13" cy="869.84" r="3.55" fill="#ffd92f"/><circle cx="110.56" cy="869.72" r="3.55" fill="#ffd92f"/><circle cx="105.93" cy="869.8" r="3.55" fill="#ffd92f"/><circle cx="114.81" cy="869.39" r="3.55" fill="#ffd92f"/><circle cx="112.67" cy="869.38" r="3.55" fill="#ffd92f"/><circle cx="110.67" cy="869.54" r="3.55" fill="#ffd92f"/><circle cx="115.15" cy="869.35" r="3.55" fill="#ffd92f"/><circle cx="115.15" cy="869.36" r="3.55" fill="#ffd92f"/><circle cx="114.97" cy="869.38" r="3.55" fill="#ffd92f"/><circle cx="112.8" cy="869.02" r="3.55" fill="#ffd92f"/><circle cx="119.25" cy="868.84" r="3.55" fill="#ffd92f"/><circle cx="116.34" cy="869.02" r="3.55" fill="#ffd92f"/><circle cx="127.65" cy="867.9" r="3.55" fill="#ffd92f"/><circle cx="128.78" cy="867.87" r="3.55" fill="#ffd92f"/><circle cx="671.53" cy="834.74" r="3.55" fill="#66c2a5"/><circle cx="684.69" cy="827.58" r="3.55" fill="#66c2a5"/><circle cx="702.69" cy="820.13" r="3.55" fill="#66c2a5"/><circle cx="691.6" cy="816.7" r="3.55" fill="#66c2a5"/><circle cx="722.88" cy="806.7" r="3.55" fill="#66c2a5"/><circle cx="713.35" cy="803.72" r="3.55" fill="#66c2a5"/><circle cx="729.54" cy="796.26" r="3.55" fill="#66c2a5"/><circle cx="702.41" cy="812.67" r="3.55" fill="#66c2a5"/><circle cx="709.5" cy="803.72" r="3.55" fill="#66c2a5"/><circle cx="714.83" cy="796.26" r="3.55" fill="#66c2a5"/><circle cx="721.5" cy="799.99" r="3.55" fill="#66c2a5"/><circle cx="708.15" cy="796.26" r="3.55" fill="#66c2a5"/><circle cx="687.57" cy="796.26" r="3.55" fill="#66c2a5"/><circle cx="720.06" cy="820.13" r="3.55" fill="#66c2a5"/><circle cx="724.57" cy="781.34" r="3.55" fill="#66c2a5"/><circle cx="743.43" cy="781.34" r="3.55" fill="#66c2a5"/><circle cx="729.85" cy="766.43" r="3.55" fill="#66c2a5"/><circle cx="725.8" cy="766.43" r="3.55" fill="#66c2a5"/><circle cx="722.87" cy="779.85" r="3.55" fill="#66c2a5"/><circle cx="750.23" cy="773.89" r="3.55" fill="#66c2a5"/><circle cx="742.95" cy="785.07" r="3.55" fill="#66c2a5"/><circle cx="733.77" cy="768.67" r="3.55" fill="#66c2a5"/><circle cx="729.61" cy="778.36" r="3.55" fill="#66c2a5"/><circle cx="768.81" cy="769.41" r="3.55" fill="#66c2a5"/><circle cx="743.85" cy="766.43" r="3.55" fill="#66c2a5"/><circle cx="765.24" cy="762.7" r="3.55" fill="#66c2a5"/><circle cx="766.94" cy="763.44" r="3.55" fill="#66c2a5"/><circle cx="755.95" cy="764.34" r="3.55" fill="#66c2a5"/><circle cx="771.93" cy="744.05" r="3.55" fill="#66c2a5"/><circle cx="790.58" cy="721.68" r="3.55" fill="#66c2a5"/><circle cx="776.91" cy="733.61" r="3.55" fill="#66c2a5"/><circle cx="776.25" cy="728.39" r="3.55" fill="#66c2a5"/><circle cx="797.34" cy="732.87" r="3.55" fill="#66c2a5"/><circle cx="797.23" cy="725.41" r="3.55" fill="#66c2a5"/><circle cx="779.91" cy="729.14" r="3.55" fill="#66c2a5"/><circle cx="590.78" cy="864.87" r="3.55" fill="#a6d854"/><circle cx="616.3" cy="860.55" r="3.55" fill="#a6d854"/><circle cx="620.11" cy="859.21" r="3.55" fill="#a6d854"/><circle cx="632.57" cy="857.86" r="3.55" fill="#a6d854"/><circle cx="650.98" cy="852.94" r="3.55" fill="#a6d854"/><circle cx="640.73" cy="870.84" r="3.55" fill="#a6d854"/><circle cx="642.76" cy="854.43" r="3.55" fill="#a6d854"/><circle cx="638.08" cy="852.94" r="3.55" fill="#a6d854"/><circle cx="659.29" cy="848.47" r="3.55" fill="#a6d854"/><circle cx="649.77" cy="849.21" r="3.55" fill="#a6d854"/><circle cx="662.33" cy="846.98" r="3.55" fill="#a6d854"/><circle cx="639.5" cy="849.96" r="3.55" fill="#a6d854"/><circle cx="661.39" cy="846.98" r="3.55" fill="#a6d854"/><circle cx="663.01" cy="845.63" r="3.55" fill="#a6d854"/><circle cx="653.61" cy="846.83" r="3.55" fill="#a6d854"/><circle cx="676.47" cy="841.01" r="3.55" fill="#a6d854"/><circle cx="666.28" cy="843.99" r="3.55" fill="#a6d854"/><circle cx="693.51" cy="827.58" r="3.55" fill="#a6d854"/><circle cx="706.26" cy="830.27" r="3.55" fill="#a6d854"/><circle cx="733.06" cy="812.67" r="3.55" fill="#a6d854"/><circle cx="682.02" cy="830.57" r="3.55" fill="#e5c494"/><circle cx="682.06" cy="830.57" r="3.55" fill="#e5c494"/><circle cx="702.02" cy="825.2" r="3.55" fill="#e5c494"/><circle cx="788.69" cy="790.29" r="3.55" fill="#e5c494"/><circle cx="789.23" cy="751.51" r="3.55" fill="#e5c494"/><circle cx="786.99" cy="721.68" r="3.55" fill="#e5c494"/><circle cx="593.48" cy="862.64" r="3.55" fill="#fc8d62"/><circle cx="592.91" cy="861.89" r="3.55" fill="#fc8d62"/><circle cx="609.45" cy="857.42" r="3.55" fill="#fc8d62"/><circle cx="620.75" cy="852.94" r="3.55" fill="#fc8d62"/><circle cx="638.02" cy="848.47" r="3.55" fill="#fc8d62"/><circle cx="638.09" cy="849.96" r="3.55" fill="#fc8d62"/><circle cx="643.44" cy="845.48" r="3.55" fill="#fc8d62"/><circle cx="631.76" cy="849.21" r="3.55" fill="#fc8d62"/><circle cx="655.11" cy="841.01" r="3.55" fill="#fc8d62"/><circle cx="677.25" cy="830.12" r="3.55" fill="#fc8d62"/><circle cx="681.39" cy="826.09" r="3.55" fill="#fc8d62"/><circle cx="551.15" cy="869.96" r="3.55" fill="#8da0cb"/><circle cx="578.39" cy="866.07" r="3.55" fill="#8da0cb"/><circle cx="598.34" cy="864.87" r="3.55" fill="#8da0cb"/><circle cx="607.54" cy="863.16" r="3.55" fill="#8da0cb"/><circle cx="621.82" cy="860.4" r="3.55" fill="#8da0cb"/><circle cx="639.34" cy="855.92" r="3.55" fill="#8da0cb"/><circle cx="630.21" cy="859.21" r="3.55" fill="#8da0cb"/><circle cx="626.83" cy="858.91" r="3.55" fill="#8da0cb"/><circle cx="626.22" cy="858.16" r="3.55" fill="#8da0cb"/><circle cx="614.01" cy="858.16" r="3.55" fill="#8da0cb"/><circle cx="650.1" cy="854.43" r="3.55" fill="#8da0cb"/><circle cx="638.69" cy="853.69" r="3.55" fill="#8da0cb"/><circle cx="655.29" cy="852.2" r="3.55" fill="#8da0cb"/><circle cx="649.13" cy="851.45" r="3.55" fill="#8da0cb"/><circle cx="643.3" cy="852.94" r="3.55" fill="#8da0cb"/><circle cx="648.72" cy="852.94" r="3.55" fill="#8da0cb"/><circle cx="648.72" cy="851.45" r="3.55" fill="#8da0cb"/><circle cx="648.72" cy="850.7" r="3.55" fill="#8da0cb"/><circle cx="670.38" cy="854.43" r="3.55" fill="#8da0cb"/><circle cx="653.28" cy="851.45" r="3.55" fill="#8da0cb"/><circle cx="653.28" cy="848.47" r="3.55" fill="#8da0cb"/><circle cx="653.56" cy="849.21" r="3.55" fill="#8da0cb"/><circle cx="653.37" cy="848.47" r="3.55" fill="#8da0cb"/><circle cx="657.94" cy="845.48" r="3.55" fill="#8da0cb"/><circle cx="657.84" cy="837.28" r="3.55" fill="#8da0cb"/><circle cx="662.54" cy="849.21" r="3.55" fill="#8da0cb"/><circle cx="678.25" cy="842.8" r="3.55" fill="#8da0cb"/><circle cx="656.02" cy="843.99" r="3.55" fill="#8da0cb"/><circle cx="681.63" cy="841.46" r="3.55" fill="#8da0cb"/><circle cx="677.25" cy="838.32" r="3.55" fill="#8da0cb"/><circle cx="723.03" cy="826.09" r="3.55" fill="#8da0cb"/><circle cx="686.05" cy="832.06" r="3.55" fill="#8da0cb"/><circle cx="686.05" cy="831.31" r="3.55" fill="#8da0cb"/><circle cx="696.71" cy="833.55" r="3.55" fill="#8da0cb"/><circle cx="680.02" cy="833.55" r="3.55" fill="#8da0cb"/><circle cx="699.9" cy="826.09" r="3.55" fill="#8da0cb"/><circle cx="706.17" cy="823.11" r="3.55" fill="#8da0cb"/><circle cx="763.62" cy="794.17" r="3.55" fill="#8da0cb"/><circle cx="780.65" cy="787.91" r="3.55" fill="#8da0cb"/><circle cx="845.55" cy="745.55" r="3.55" fill="#8da0cb"/><circle cx="802.61" cy="768.67" r="3.55" fill="#8da0cb"/><circle cx="796.93" cy="766.43" r="3.55" fill="#8da0cb"/><circle cx="774.98" cy="766.43" r="3.55" fill="#8da0cb"/><circle cx="779.69" cy="767.92" r="3.55" fill="#8da0cb"/><circle cx="831.62" cy="736.6" r="3.55" fill="#8da0cb"/><circle cx="762.93" cy="773.89" r="3.55" fill="#8da0cb"/><circle cx="825.08" cy="748.53" r="3.55" fill="#8da0cb"/><circle cx="813.78" cy="744.05" r="3.55" fill="#8da0cb"/><circle cx="819.25" cy="736.6" r="3.55" fill="#8da0cb"/><circle cx="830.19" cy="719.44" r="3.55" fill="#8da0cb"/><circle cx="791.83" cy="748.53" r="3.55" fill="#8da0cb"/><circle cx="802.81" cy="706.76" r="3.55" fill="#8da0cb"/><circle cx="821.66" cy="721.68" r="3.55" fill="#8da0cb"/><circle cx="828.08" cy="706.76" r="3.55" fill="#8da0cb"/><circle cx="861.51" cy="721.68" r="3.55" fill="#8da0cb"/><circle cx="836.34" cy="721.68" r="3.55" fill="#8da0cb"/><circle cx="641.83" cy="841.01" r="3.55" fill="#e78ac3"/><circle cx="677.89" cy="826.09" r="3.55" fill="#e78ac3"/><circle cx="688.33" cy="826.09" r="3.55" fill="#e78ac3"/><circle cx="671.52" cy="826.09" r="3.55" fill="#e78ac3"/><circle cx="697.18" cy="806.7" r="3.55" fill="#e78ac3"/><circle cx="669.55" cy="819.38" r="3.55" fill="#e78ac3"/><circle cx="685.47" cy="802.82" r="3.55" fill="#e78ac3"/><circle cx="691.77" cy="794.77" r="3.55" fill="#e78ac3"/><circle cx="722.67" cy="790.29" r="3.55" fill="#e78ac3"/><circle cx="711.91" cy="796.26" r="3.55" fill="#e78ac3"/><circle cx="710.71" cy="786.27" r="3.55" fill="#e78ac3"/><circle cx="734.03" cy="755.99" r="3.55" fill="#e78ac3"/><circle cx="770.68" cy="729.14" r="3.55" fill="#e78ac3"/><circle cx="808.18" cy="684.39" r="3.55" fill="#e78ac3"/><circle cx="769.43" cy="632.18" r="3.55" fill="#e78ac3"/><circle cx="769.43" cy="639.64" r="3.55" fill="#e78ac3"/><circle cx="831" cy="624.72" r="3.55" fill="#e78ac3"/><circle cx="534.53" cy="869.84" r="3.55" fill="#ffd92f"/><circle cx="539.71" cy="869.72" r="3.55" fill="#ffd92f"/><circle cx="539.18" cy="869.8" r="3.55" fill="#ffd92f"/><circle cx="549.85" cy="869.39" r="3.55" fill="#ffd92f"/><circle cx="545.12" cy="869.38" r="3.55" fill="#ffd92f"/><circle cx="545.49" cy="869.54" r="3.55" fill="#ffd92f"/><circle cx="545.42" cy="869.35" r="3.55" fill="#ffd92f"/><circle cx="539.99" cy="869.36" r="3.55" fill="#ffd92f"/><circle cx="539.18" cy="869.38" r="3.55" fill="#ffd92f"/><circle cx="550.48" cy="869.02" r="3.55" fill="#ffd92f"/><circle cx="544.74" cy="868.84" r="3.55" fill="#ffd92f"/><circle cx="544.13" cy="869.02" r="3.55" fill="#ffd92f"/><circle cx="581.53" cy="867.9" r="3.55" fill="#ffd92f"/><circle cx="572.86" cy="867.87" r="3.55" fill="#ffd92f"/></g>
<rect x="89.61" y="272.35" width="360.43" height="270.08" fill="none" stroke="#000" stroke-width="0.97"/>
<rect x="518.5" y="272.35" width="360.47" height="270.08" fill="none" stroke="#000" stroke-width="0.97"/>
<rect x="947.53" y="272.35" width="359.41" height="270.08" fill="none" stroke="#000" stroke-width="0.97"/>
<rect x="89.61" y="613.24" width="360.43" height="270.22" fill="none" stroke="#000" stroke-width="0.97"/>
<rect x="518.5" y="613.24" width="360.47" height="270.22" fill="none" stroke="#000" stroke-width="0.97"/>
<path d="M121.81 542.43v4.6M185.3 542.43v4.6M248.79 542.43v4.6M312.28 542.43v4.6M375.77 542.43v4.6M439.26 542.43v4.6M89.61 530.69h-4.6M89.61 493.4h-4.6M89.61 456.11h-4.6M89.61 418.82h-4.6M89.61 381.53h-4.6M89.61 344.24h-4.6M89.61 306.95h-4.6M544.05 542.43v4.6M603.5 542.43v4.6M662.95 542.43v4.6M722.4 542.43v4.6M781.85 542.43v4.6M841.3 542.43v4.6M518.5 530.69h-4.6M518.5 493.4h-4.6M518.5 456.11h-4.6M518.5 418.82h-4.6M518.5 381.53h-4.6M518.5 344.24h-4.6M518.5 306.95h-4.6M969.76 542.43v4.6M1025 542.43v4.6M1080.23 542.43v4.6M1135.46 542.43v4.6M1190.7 542.43v4.6M1245.93 542.43v4.6M1301.16 542.43v4.6M947.53 530.69h-4.6M947.53 493.4h-4.6M947.53 456.11h-4.6M947.53 418.82h-4.6M947.53 381.53h-4.6M947.53 344.24h-4.6M947.53 306.95h-4.6M120.58 883.46v4.6M168.02 883.46v4.6M215.47 883.46v4.6M262.92 883.46v4.6M310.37 883.46v4.6M357.81 883.46v4.6M405.26 883.46v4.6M89.61 871.39h-4.6M89.61 834.1h-4.6M89.61 796.81h-4.6M89.61 759.52h-4.6M89.61 722.23h-4.6M89.61 684.94h-4.6M89.61 647.65h-4.6M532.34 883.46v4.6M578.43 883.46v4.6M624.52 883.46v4.6M670.61 883.46v4.6M716.7 883.46v4.6M762.79 883.46v4.6M808.88 883.46v4.6M854.97 883.46v4.6M518.5 871.39h-4.6M518.5 834.1h-4.6M518.5 796.81h-4.6M518.5 759.52h-4.6M518.5 722.23h-4.6M518.5 684.94h-4.6M518.5 647.65h-4.6" stroke="#000" stroke-width="0.97" fill="none"/>
<rect x="95.61" y="278.29" width="99.93" height="149.06" rx="2.4" fill="#fff" fill-opacity="0.8" stroke="#cccccc" stroke-width="0.97"/><circle cx="113.14" cy="306.63" r="3.55" fill="#66c2a5" stroke="#fff" stroke-width="0.58"/><circle cx="113.14" cy="324.81" r="3.55" fill="#fc8d62" stroke="#fff" stroke-width="0.58"/><circle cx="113.14" cy="342.99" r="3.55" fill="#8da0cb" stroke="#fff" stroke-width="0.58"/><circle cx="113.14" cy="361.17" r="3.55" fill="#e78ac3" stroke="#fff" stroke-width="0.58"/><circle cx="113.14" cy="379.35" r="3.55" fill="#a6d854" stroke="#fff" stroke-width="0.58"/><circle cx="113.14" cy="397.53" r="3.55" fill="#ffd92f" stroke="#fff" stroke-width="0.58"/><circle cx="113.14" cy="415.71" r="3.55" fill="#e5c494" stroke="#fff" stroke-width="0.58"/><rect x="524.21" y="278.29" width="99.94" height="149.06" rx="2.4" fill="#fff" fill-opacity="0.8" stroke="#cccccc" stroke-width="0.97"/><circle cx="541.74" cy="306.63" r="3.55" fill="#66c2a5" stroke="#fff" stroke-width="0.58"/><circle cx="541.74" cy="324.81" r="3.55" fill="#fc8d62" stroke="#fff" stroke-width="0.58"/><circle cx="541.74" cy="342.99" r="3.55" fill="#8da0cb" stroke="#fff" stroke-width="0.58"/><circle cx="541.74" cy="361.17" r="3.55" fill="#e78ac3" stroke="#fff" stroke-width="0.58"/><circle cx="541.74" cy="379.35" r="3.55" fill="#a6d854" stroke="#fff" stroke-width="0.58"/><circle cx="541.74" cy="397.53" r="3.55" fill="#ffd92f" stroke="#fff" stroke-width="0.58"/><circle cx="541.74" cy="415.71" r="3.55" fill="#e5c494" stroke="#fff" stroke-width="0.58"/><rect x="952.81" y="278.29" width="99.94" height="149.06" rx="2.4" fill="#fff" fill-opacity="0.8" stroke="#cccccc" stroke-width="0.97"/><circle cx="970.34" cy="306.63" r="3.55" fill="#66c2a5" stroke="#fff" stroke-width="0.58"/><circle cx="970.34" cy="324.81" r="3.55" fill="#fc8d62" stroke="#fff" stroke-width="0.58"/><circle cx="970.34" cy="342.99" r="3.55" fill="#8da0cb" stroke="#fff" stroke-width="0.58"/><circle cx="970.34" cy="361.17" r="3.55" fill="#e78ac3" stroke="#fff" stroke-width="0.58"/><circle cx="970.34" cy="379.35" r="3.55" fill="#a6d854" stroke="#fff" stroke-width="0.58"/><circle cx="970.34" cy="397.53" r="3.55" fill="#ffd92f" stroke="#fff" stroke-width="0.58"/><circle cx="970.34" cy="415.71" r="3.55" fill="#e5c494" stroke="#fff" stroke-width="0.58"/><rect x="95.61" y="619" width="99.93" height="149.06" rx="2.4" fill="#fff" fill-opacity="0.8" stroke="#cccccc" stroke-width="0.97"/><circle cx="113.14" cy="646.78" r="3.55" fill="#66c2a5" stroke="#fff" stroke-width="0.58"/><circle cx="113.14" cy="664.96" r="3.55" fill="#fc8d62" stroke="#fff" stroke-width="0.58"/><circle cx="113.14" cy="683.14" r="3.55" fill="#8da0cb" stroke="#fff" stroke-width="0.58"/><circle cx="113.14" cy="701.32" r="3.55" fill="#e78ac3" stroke="#fff" stroke-width="0.58"/><circle cx="113.14" cy="719.5" r="3.55" fill="#a6d854" stroke="#fff" stroke-width="0.58"/><circle cx="113.14" cy="737.68" r="3.55" fill="#ffd92f" stroke="#fff" stroke-width="0.58"/><circle cx="113.14" cy="755.86" r="3.55" fill="#e5c494" stroke="#fff" stroke-width="0.58"/><rect x="524.21" y="619" width="99.94" height="149.06" rx="2.4" fill="#fff" fill-opacity="0.8" stroke="#cccccc" stroke-width="0.97"/><circle cx="541.74" cy="646.78" r="3.55" fill="#66c2a5" stroke="#fff" stroke-width="0.58"/><circle cx="541.74" cy="664.96" r="3.55" fill="#fc8d62" stroke="#fff" stroke-width="0.58"/><circle cx="541.74" cy="683.14" r="3.55" fill="#8da0cb" stroke="#fff" stroke-width="0.58"/><circle cx="541.74" cy="701.32" r="3.55" fill="#e78ac3" stroke="#fff" stroke-width="0.58"/><circle cx="541.74" cy="719.5" r="3.55" fill="#a6d854" stroke="#fff" stroke-width="0.58"/><circle cx="541.74" cy="737.68" r="3.55" fill="#ffd92f" stroke="#fff" stroke-width="0.58"/><circle cx="541.74" cy="755.86" r="3.55" fill="#e5c494" stroke="#fff" stroke-width="0.58"/>
<g fill="#222" font-family="Liberation Sans, sans-serif"><text x="114.49" y="560.98" font-size="12.3" textLength="14.75" lengthAdjust="spacingAndGlyphs">10</text><text x="177.9" y="560.98" font-size="12.3" textLength="14.89" lengthAdjust="spacingAndGlyphs">20</text><text x="241.6" y="560.98" font-size="12.3" textLength="14.67" lengthAdjust="spacingAndGlyphs">30</text><text x="304.98" y="560.98" font-size="12.3" textLength="14.78" lengthAdjust="spacingAndGlyphs">40</text><text x="368.59" y="560.98" font-size="12.3" textLength="14.68" lengthAdjust="spacingAndGlyphs">50</text><text x="431.78" y="560.98" font-size="12.3" textLength="14.92" lengthAdjust="spacingAndGlyphs">60</text><text x="73.82" y="535.46" font-size="12.3" textLength="7.09" lengthAdjust="spacingAndGlyphs">0</text><text x="58.56" y="498.17" font-size="12.3" textLength="22.53" lengthAdjust="spacingAndGlyphs">250</text><text x="58.76" y="460.88" font-size="12.3" textLength="22.33" lengthAdjust="spacingAndGlyphs">500</text><text x="58.65" y="423.59" font-size="12.3" textLength="22.44" lengthAdjust="spacingAndGlyphs">750</text><text x="50.97" y="386.3" font-size="12.3" textLength="30.13" lengthAdjust="spacingAndGlyphs">1000</text><text x="50.97" y="349.01" font-size="12.3" textLength="30.13" lengthAdjust="spacingAndGlyphs">1250</text><text x="50.97" y="311.72" font-size="12.3" textLength="30.13" lengthAdjust="spacingAndGlyphs">1500</text><text x="202.59" y="265.03" font-size="15.1" textLength="133.88" lengthAdjust="spacingAndGlyphs">Weight vs Length1</text><text x="244.85" y="577.96" font-size="12.3" textLength="48.77" lengthAdjust="spacingAndGlyphs">Length1</text><text transform="translate(42.73 429.56) rotate(-90)" font-size="12.3" textLength="40.24" lengthAdjust="spacingAndGlyphs">Weight</text><text x="122.67" y="292.67" font-size="12.3" textLength="46.07" lengthAdjust="spacingAndGlyphs">Species</text><text x="134.27" y="310.85" font-size="12.3" textLength="39.29" lengthAdjust="spacingAndGlyphs">Bream</text><text x="134.3" y="329.03" font-size="12.3" textLength="36.05" lengthAdjust="spacingAndGlyphs">Parkki</text><text x="134.33" y="347.21" font-size="12.3" textLength="32.93" lengthAdjust="spacingAndGlyphs">Perch</text><text x="134.34" y="365.39" font-size="12.3" textLength="24.07" lengthAdjust="spacingAndGlyphs">Pike</text><text x="134.32" y="383.57" font-size="12.3" textLength="36.57" lengthAdjust="spacingAndGlyphs">Roach</text><text x="134.37" y="401.75" font-size="12.3" textLength="34.54" lengthAdjust="spacingAndGlyphs">Smelt</text><text x="134.51" y="419.93" font-size="12.3" textLength="56.11" lengthAdjust="spacingAndGlyphs">Whitefish</text><text x="536.73" y="560.98" font-size="12.3" textLength="14.75" lengthAdjust="spacingAndGlyphs">10</text><text x="596.1" y="560.98" font-size="12.3" textLength="14.89" lengthAdjust="spacingAndGlyphs">20</text><text x="655.76" y="560.98" font-size="12.3" textLength="14.67" lengthAdjust="spacingAndGlyphs">30</text><text x="715.1" y="560.98" font-size="12.3" textLength="14.78" lengthAdjust="spacingAndGlyphs">40</text><text x="774.66" y="560.98" font-size="12.3" textLength="14.68" lengthAdjust="spacingAndGlyphs">50</text><text x="833.82" y="560.98" font-size="12.3" textLength="14.92" lengthAdjust="spacingAndGlyphs">60</text><text x="502.42" y="535.46" font-size="12.3" textLength="7.09" lengthAdjust="spacingAndGlyphs">0</text><text x="487.16" y="498.17" font-size="12.3" textLength="22.53" lengthAdjust="spacingAndGlyphs">250</text><text x="487.36" y="460.88" font-size="12.3" textLength="22.33" lengthAdjust="spacingAndGlyphs">500</text><text x="487.25" y="423.59" font-size="12.3" textLength="22.44" lengthAdjust="spacingAndGlyphs">750</text><text x="479.57" y="386.3" font-size="12.3" textLength="30.13" lengthAdjust="spacingAndGlyphs">1000</text><text x="479.57" y="349.01" font-size="12.3" textLength="30.13" lengthAdjust="spacingAndGlyphs">1250</text><text x="479.57" y="311.72" font-size="12.3" textLength="30.13" lengthAdjust="spacingAndGlyphs">1500</text><text x="631.2" y="265.03" font-size="15.1" textLength="133.77" lengthAdjust="spacingAndGlyphs">Weight vs Length2</text><text x="673.51" y="577.96" font-size="12.3" textLength="48.68" lengthAdjust="spacingAndGlyphs">Length2</text><text transform="translate(471.33 429.56) rotate(-90)" font-size="12.3" textLength="40.24" lengthAdjust="spacingAndGlyphs">Weight</text><text x="551.27" y="292.67" font-size="12.3" textLength="46.07" lengthAdjust="spacingAndGlyphs">Species</text><text x="562.87" y="310.85" font-size="12.3" textLength="39.29" lengthAdjust="spacingAndGlyphs">Bream</text><text x="562.9" y="329.03" font-size="12.3" textLength="36.05" lengthAdjust="spacingAndGlyphs">Parkki</text><text x="562.93" y="347.21" font-size="12.3" textLength="32.93" lengthAdjust="spacingAndGlyphs">Perch</text><text x="562.94" y="365.39" font-size="12.3" textLength="24.07" lengthAdjust="spacingAndGlyphs">Pike</text><text x="562.92" y="383.57" font-size="12.3" textLength="36.57" lengthAdjust="spacingAndGlyphs">Roach</text><text x="562.97" y="401.75" font-size="12.3" textLength="34.54" lengthAdjust="spacingAndGlyphs">Smelt</text><text x="563.11" y="419.93" font-size="12.3" textLength="56.11" lengthAdjust="spacingAndGlyphs">Whitefish</text><text x="962.44" y="560.98" font-size="12.3" textLength="14.75" lengthAdjust="spacingAndGlyphs">10</text><text x="1017.6" y="560.98" font-size="12.3" textLength="14.89" lengthAdjust="spacingAndGlyphs">20</text><text x="1073.04" y="560.98" font-size="12.3" textLength="14.67" lengthAdjust="spacingAndGlyphs">30</text><text x="1128.17" y="560.98" font-size="12.3" textLength="14.78" lengthAdjust="spacingAndGlyphs">40</text><text x="1183.51" y="560.98" font-size="12.3" textLength="14.68" lengthAdjust="spacingAndGlyphs">50</text><text x="1238.45" y="560.98" font-size="12.3" textLength="14.92" lengthAdjust="spacingAndGlyphs">60</text><text x="1293.87" y="560.98" font-size="12.3" textLength="14.79" lengthAdjust="spacingAndGlyphs">70</text><text x="931.02" y="535.46" font-size="12.3" textLength="7.09" lengthAdjust="spacingAndGlyphs">0</text><text x="915.76" y="498.17" font-size="12.3" textLength="22.53" lengthAdjust="spacingAndGlyphs">250</text><text x="915.96" y="460.88" font-size="12.3" textLength="22.33" lengthAdjust="spacingAndGlyphs">500</text><text x="915.85" y="423.59" font-size="12.3" textLength="22.44" lengthAdjust="spacingAndGlyphs">750</text><text x="908.17" y="386.3" font-size="12.3" textLength="30.13" lengthAdjust="spacingAndGlyphs">1000</text><text x="908.17" y="349.01" font-size="12.3" textLength="30.13" lengthAdjust="spacingAndGlyphs">1250</text><text x="908.17" y="311.72" font-size="12.3" textLength="30.13" lengthAdjust="spacingAndGlyphs">1500</text><text x="1059.8" y="265.03" font-size="15.1" textLength="133.94" lengthAdjust="spacingAndGlyphs">Weight vs Length3</text><text x="1102.11" y="577.96" font-size="12.3" textLength="48.83" lengthAdjust="spacingAndGlyphs">Length3</text><text transform="translate(899.93 429.56) rotate(-90)" font-size="12.3" textLength="40.24" lengthAdjust="spacingAndGlyphs">Weight</text><text x="979.87" y="292.67" font-size="12.3" textLength="46.07" lengthAdjust="spacingAndGlyphs">Species</text><text x="991.47" y="310.85" font-size="12.3" textLength="39.29" lengthAdjust="spacingAndGlyphs">Bream</text><text x="991.5" y="329.03" font-size="12.3" textLength="36.05" lengthAdjust="spacingAndGlyphs">Parkki</text><text x="991.53" y="347.21" font-size="12.3" textLength="32.93" lengthAdjust="spacingAndGlyphs">Perch</text><text x="991.54" y="365.39" font-size="12.3" textLength="24.07" lengthAdjust="spacingAndGlyphs">Pike</text><text x="991.52" y="383.57" font-size="12.3" textLength="36.57" lengthAdjust="spacingAndGlyphs">Roach</text><text x="991.57" y="401.75" font-size="12.3" textLength="34.54" lengthAdjust="spacingAndGlyphs">Smelt</text><text x="991.71" y="419.93" font-size="12.3" textLength="56.11" lengthAdjust="spacingAndGlyphs">Whitefish</text><text x="111.29" y="900.58" font-size="12.3" textLength="18.47" lengthAdjust="spacingAndGlyphs">2.5</text><text x="158.93" y="900.58" font-size="12.3" textLength="18.48" lengthAdjust="spacingAndGlyphs">5.0</text><text x="206.28" y="900.58" font-size="12.3" textLength="18.37" lengthAdjust="spacingAndGlyphs">7.5</text><text x="249.88" y="900.58" font-size="12.3" textLength="26.25" lengthAdjust="spacingAndGlyphs">10.0</text><text x="297.34" y="900.58" font-size="12.3" textLength="26.03" lengthAdjust="spacingAndGlyphs">12.5</text><text x="344.78" y="900.58" font-size="12.3" textLength="26.25" lengthAdjust="spacingAndGlyphs">15.0</text><text x="392.23" y="900.58" font-size="12.3" textLength="26.03" lengthAdjust="spacingAndGlyphs">17.5</text><text x="73.82" y="875.07" font-size="12.3" textLength="7.09" lengthAdjust="spacingAndGlyphs">0</text><text x="58.56" y="837.77" font-size="12.3" textLength="22.53" lengthAdjust="spacingAndGlyphs">250</text><text x="58.76" y="800.48" font-size="12.3" textLength="22.33" lengthAdjust="spacingAndGlyphs">500</text><text x="58.65" y="763.19" font-size="12.3" textLength="22.44" lengthAdjust="spacingAndGlyphs">750</text><text x="50.97" y="725.9" font-size="12.3" textLength="30.13" lengthAdjust="spacingAndGlyphs">1000</text><text x="50.97" y="688.61" font-size="12.3" textLength="30.13" lengthAdjust="spacingAndGlyphs">1250</text><text x="50.97" y="651.32" font-size="12.3" textLength="30.13" lengthAdjust="spacingAndGlyphs">1500</text><text x="208.24" y="604.63" font-size="15.1" textLength="122.9" lengthAdjust="spacingAndGlyphs">Weight vs Height</text><text x="249.55" y="917.56" font-size="12.3" textLength="39.61" lengthAdjust="spacingAndGlyphs">Height</text><text transform="translate(42.73 769.16) rotate(-90)" font-size="12.3" textLength="40.24" lengthAdjust="spacingAndGlyphs">Weight</text><text x="122.67" y="633.17" font-size="12.3" textLength="46.07" lengthAdjust="spacingAndGlyphs">Species</text><text x="134.27" y="651.35" font-size="12.3" textLength="39.29" lengthAdjust="spacingAndGlyphs">Bream</text><text x="134.3" y="669.53" font-size="12.3" textLength="36.05" lengthAdjust="spacingAndGlyphs">Parkki</text><text x="134.33" y="687.71" font-size="12.3" textLength="32.93" lengthAdjust="spacingAndGlyphs">Perch</text><text x="134.34" y="705.89" font-size="12.3" textLength="24.07" lengthAdjust="spacingAndGlyphs">Pike</text><text x="134.32" y="724.07" font-size="12.3" textLength="36.57" lengthAdjust="spacingAndGlyphs">Roach</text><text x="134.37" y="742.25" font-size="12.3" textLength="34.54" lengthAdjust="spacingAndGlyphs">Smelt</text><text x="134.51" y="760.43" font-size="12.3" textLength="56.11" lengthAdjust="spacingAndGlyphs">Whitefish</text><text x="528.91" y="900.58" font-size="12.3" textLength="6.74" lengthAdjust="spacingAndGlyphs">1</text><text x="574.89" y="900.58" font-size="12.3" textLength="6.82" lengthAdjust="spacingAndGlyphs">2</text><text x="621.17" y="900.58" font-size="12.3" textLength="6.78" lengthAdjust="spacingAndGlyphs">3</text><text x="667.13" y="900.58" font-size="12.3" textLength="7.04" lengthAdjust="spacingAndGlyphs">4</text><text x="713.35" y="900.58" font-size="12.3" textLength="6.67" lengthAdjust="spacingAndGlyphs">5</text><text x="759.13" y="900.58" font-size="12.3" textLength="7.29" lengthAdjust="spacingAndGlyphs">6</text><text x="805.42" y="900.58" font-size="12.3" textLength="6.93" lengthAdjust="spacingAndGlyphs">7</text><text x="851.39" y="900.58" font-size="12.3" textLength="7.13" lengthAdjust="spacingAndGlyphs">8</text><text x="502.42" y="875.07" font-size="12.3" textLength="7.09" lengthAdjust="spacingAndGlyphs">0</text><text x="487.16" y="837.77" font-size="12.3" textLength="22.53" lengthAdjust="spacingAndGlyphs">250</text><text x="487.36" y="800.48" font-size="12.3" textLength="22.33" lengthAdjust="spacingAndGlyphs">500</text><text x="487.25" y="763.19" font-size="12.3" textLength="22.44" lengthAdjust="spacingAndGlyphs">750</text><text x="479.57" y="725.9" font-size="12.3" textLength="30.13" lengthAdjust="spacingAndGlyphs">1000</text><text x="479.57" y="688.61" font-size="12.3" textLength="30.13" lengthAdjust="spacingAndGlyphs">1250</text><text x="479.57" y="651.32" font-size="12.3" textLength="30.13" lengthAdjust="spacingAndGlyphs">1500</text><text x="639.71" y="604.63" font-size="15.1" textLength="117.22" lengthAdjust="spacingAndGlyphs">Weight vs Width</text><text x="680.77" y="917.56" font-size="12.3" textLength="34.6" lengthAdjust="spacingAndGlyphs">Width</text><text transform="translate(471.33 769.16) rotate(-90)" font-size="12.3" textLength="40.24" lengthAdjust="spacingAndGlyphs">Weight</text><text x="551.27" y="633.17" font-size="12.3" textLength="46.07" lengthAdjust="spacingAndGlyphs">Species</text><text x="562.87" y="651.35" font-size="12.3" textLength="39.29" lengthAdjust="spacingAndGlyphs">Bream</text><text x="562.9" y="669.53" font-size="12.3" textLength="36.05" lengthAdjust="spacingAndGlyphs">Parkki</text><text x="562.93" y="687.71" font-size="12.3" textLength="32.93" lengthAdjust="spacingAndGlyphs">Perch</text><text x="562.94" y="705.89" font-size="12.3" textLength="24.07" lengthAdjust="spacingAndGlyphs">Pike</text><text x="562.92" y="724.07" font-size="12.3" textLength="36.57" lengthAdjust="spacingAndGlyphs">Roach</text><text x="562.97" y="742.25" font-size="12.3" textLength="34.54" lengthAdjust="spacingAndGlyphs">Smelt</text><text x="563.11" y="760.43" font-size="12.3" textLength="56.11" lengthAdjust="spacingAndGlyphs">Whitefish</text></g>
<path d="M24.5 944 L34.5 937 L34.5 951 Z" fill="#4a4a4a"/>
<rect x="24.5" y="243.5" width="1293" height="686" fill="none" stroke="#121212" stroke-width="1"/>
<g opacity="0.21">
<g fill="none" stroke="#787878" stroke-linecap="round">
<path d="M633.65 873.35 A11.8 11.8 0 1 0 643.4 887" stroke-width="7.9"/>
<path d="M644.5 859.7 V891" stroke-width="7"/>
<path d="M644 891.3 H768" stroke-width="8" stroke-linecap="butt"/>
<circle cx="671.9" cy="879.2" r="11.1" stroke-width="7.5"/>
<path d="M701.8 880V891M717.4 880V891M729.9 877V891M741.8 875V891" stroke-width="7.5"/>
<circle cx="767.9" cy="885.4" r="11.5" stroke-width="7.6"/>
</g>
<g fill="#787878">
<circle cx="665.9" cy="857.2" r="4.8"/><circle cx="677.8" cy="857.2" r="4.8"/>
<circle cx="695.7" cy="866.9" r="4.75"/><circle cx="707.5" cy="867" r="4.75"/>
<text x="615.5" y="923.2" font-family="Liberation Sans, sans-serif" font-weight="bold" font-size="30" textLength="168" lengthAdjust="spacingAndGlyphs">mostaql.com</text>
</g>
</g>
</svg>
</body></html>
